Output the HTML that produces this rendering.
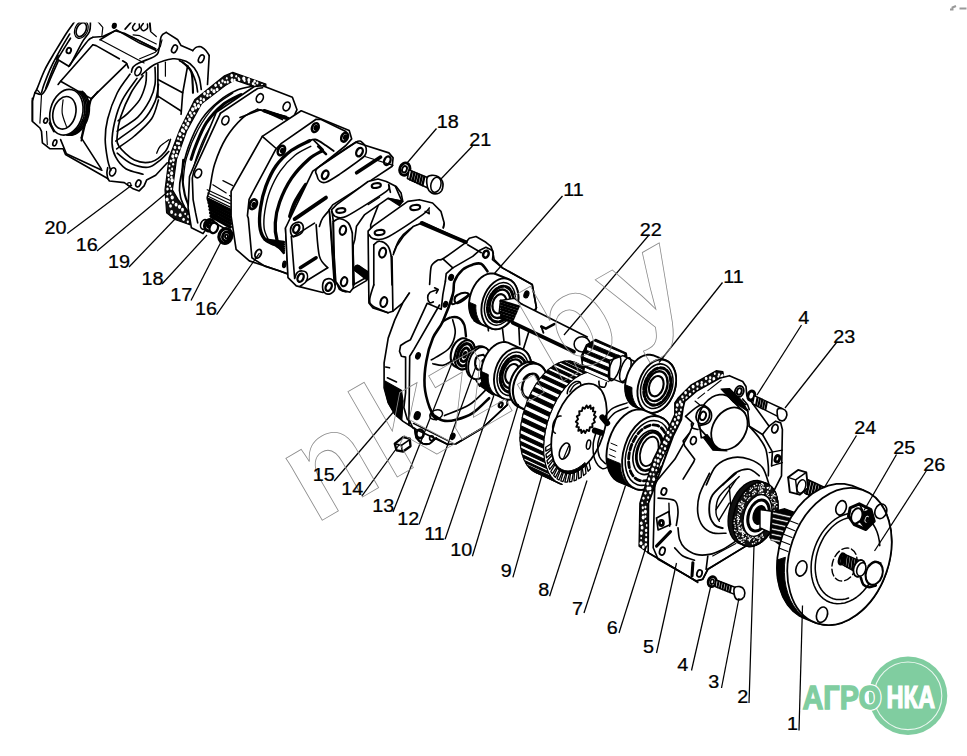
<!DOCTYPE html>
<html><head><meta charset="utf-8"><title>diagram</title>
<style>html,body{margin:0;padding:0;background:#fff;overflow:hidden}svg{display:block}</style></head>
<body>
<svg width="967" height="756" viewBox="0 0 967 756">
<rect width="967" height="756" fill="#fff"/>
<g stroke-linecap="round" stroke-linejoin="round">
<clipPath id="c20"><rect x="0" y="22.5" width="967" height="740"/></clipPath><g clip-path="url(#c20)">
<path d="M74.6,21.6 C73.3,23.5 69.7,28.1 66.4,33.2 C63.1,38.3 58.4,46.2 54.8,52.2 C51.2,58.3 47.8,63.7 44.9,69.6 C42.0,75.5 39.1,83.9 37.4,87.8 C35.8,91.7 35.3,91.9 34.9,92.8" fill="none" stroke="#000" stroke-width="1.65" />
<path d="M34.9,92.8 L32.4,101.0 L32.4,120.9" fill="none" stroke="#000" stroke-width="1.65" />
<path d="M69.7,34.0 C68.4,36.1 65.3,41.1 62.2,46.4 C59.2,51.8 54.5,60.0 51.5,66.3 C48.4,72.6 45.7,80.1 44.0,84.5 C42.4,88.9 42.0,91.4 41.5,92.8" fill="none" stroke="#000" stroke-width="1.65" />
<path d="M70.5,38.2 C68.2,42.0 60.2,54.2 56.4,61.3 C52.7,68.5 50.0,76.6 48.2,81.2 C46.4,85.7 46.1,87.4 45.7,88.6" fill="none" stroke="#000" stroke-width="1.65" />
<path d="M90.4,21.6 C90.2,23.3 90.9,28.1 89.5,31.5 C88.2,35.0 85.1,37.1 82.1,42.3 C79.1,47.5 73.5,59.0 71.3,63.0 C69.1,67.0 69.3,65.7 68.8,66.3" fill="none" stroke="#000" stroke-width="1.65" />
<path d="M58.1,55.5 L56.4,58.8 L68.8,66.3" fill="none" stroke="#000" stroke-width="1.65" />
<path d="M58.1,61.3 C57.0,63.8 53.4,71.8 51.5,76.2 C49.5,80.6 48.2,84.8 46.5,87.8 C44.9,90.8 43.5,93.6 41.5,94.4 C39.6,95.2 36.0,93.0 34.9,92.8" fill="none" stroke="#000" stroke-width="1.65" />
<ellipse cx="81.3" cy="29.6" rx="4.6" ry="7.4" transform="rotate(25 81.3 29.6)" fill="none" stroke="#000" stroke-width="1.65" />
<ellipse cx="81.3" cy="29.6" rx="6.3" ry="9.1" transform="rotate(25 81.3 29.6)" fill="none" stroke="#000" stroke-width="1.18" />
<ellipse cx="68.8" cy="50.6" rx="2.2" ry="2.8" transform="rotate(20 68.8 50.6)" fill="none" stroke="#000" stroke-width="1.89" />
<path d="M97.8,21.6 L102.8,27.4 L101.9,35.7" fill="none" stroke="#000" stroke-width="1.18" />
<ellipse cx="114.3" cy="25.8" rx="1.3" ry="2.0" transform="rotate(10 114.3 25.8)" fill="none" stroke="#000" stroke-width="2.6" />
<path d="M125.1,29.1 L130.9,22.4" fill="none" stroke="#000" stroke-width="1.65" />
<path d="M135.0,23.3 C134.6,24.0 132.5,26.2 132.5,27.4 C132.5,28.7 133.9,30.6 135.0,30.7 C136.1,30.9 138.5,29.3 139.2,28.2 C139.9,27.1 139.2,24.8 139.2,24.1" fill="none" stroke="#000" stroke-width="1.53" />
<path d="M143.3,23.3 C142.9,24.0 140.8,26.2 140.8,27.4 C140.8,28.7 142.2,30.6 143.3,30.7 C144.4,30.9 146.8,29.3 147.4,28.2 C148.1,27.1 147.4,24.8 147.4,24.1" fill="none" stroke="#000" stroke-width="1.53" />
<path d="M149.9,22.4 L150.7,30.7" fill="none" stroke="#000" stroke-width="1.53" />
<path d="M68.8,66.3 C70.6,63.9 79.4,51.6 82.1,48.1 C84.7,44.6 87.3,41.3 88.7,39.8 C90.1,38.4 92.3,37.7 92.8,37.3" fill="none" stroke="#000" stroke-width="1.65" />
<path d="M92.8,37.3 L102.8,36.5 L115.2,30.7 L124.3,33.2 L155.7,48.9" fill="none" stroke="#000" stroke-width="1.65" />
<path d="M92.8,44.8 L96.1,45.6 L119.3,58.8" fill="none" stroke="#000" stroke-width="1.65" />
<path d="M122.6,60.8 L126.3,63.0" fill="none" stroke="#000" stroke-width="1.65" />
<path d="M100.3,39.8 L144.1,63.0" fill="none" stroke="#000" stroke-width="1.18" />
<path d="M130.9,36.5 L155.7,48.9" fill="none" stroke="#000" stroke-width="1.18" />
<path d="M92.8,44.8 L60.6,81.2 L91.2,98.6 L126.8,63.8" fill="none" stroke="#000" stroke-width="1.65" />
<path d="M60.6,81.2 L58.1,84.5" fill="none" stroke="#000" stroke-width="1.65" />
<path d="M91.2,98.6 L81.3,140.7" fill="none" stroke="#000" stroke-width="1.65" />
<path d="M126.8,63.8 L128.4,67.9" fill="none" stroke="#000" stroke-width="1.65" />
<path d="M131.4,72.1 C131.8,71.1 131.6,68.9 133.1,67.1 C134.6,65.3 134.6,65.1 138.9,63.0 C143.2,60.8 150.6,58.8 154.6,56.4 C158.6,53.9 157.4,54.5 158.7,50.6 C160.1,46.6 159.7,40.1 161.2,36.5 C162.7,32.9 165.2,33.2 166.2,32.4" fill="none" stroke="#000" stroke-width="1.65" />
<path d="M166.2,32.4 L177.8,39.8 L181.1,45.6 L192.7,50.6" fill="none" stroke="#000" stroke-width="1.65" />
<path d="M192.7,50.6 C194.0,49.6 194.5,47.2 197.6,46.8 C200.7,46.3 201.2,46.6 204.2,48.9 C207.3,51.3 207.9,53.8 209.2,55.5" fill="none" stroke="#000" stroke-width="1.65" />
<path d="M209.2,55.5 L207.5,84.5" fill="none" stroke="#000" stroke-width="1.65" />
<path d="M139.7,58.8 L155.4,52.2 L160.4,46.4 L162.0,39.8" fill="none" stroke="#000" stroke-width="1.18" />
<path d="M100.0,39.8 L116.5,29.9 L139.7,43.1 L156.3,50.6" fill="none" stroke="#000" stroke-width="1.65" />
<path d="M133.1,34.9 L139.7,35.7 L156.3,44.0" fill="none" stroke="#000" stroke-width="1.18" />
<path d="M149.6,23.3 L150.5,31.5 L156.3,36.5" fill="none" stroke="#000" stroke-width="1.18" />
<ellipse cx="138.1" cy="71.3" rx="2.8" ry="4.6" transform="rotate(25 138.1 71.3)" fill="none" stroke="#000" stroke-width="1.65" />
<ellipse cx="174.5" cy="48.9" rx="2.5" ry="4.1" transform="rotate(25 174.5 48.9)" fill="none" stroke="#000" stroke-width="1.65" />
<ellipse cx="201.3" cy="58.8" rx="2.5" ry="4.1" transform="rotate(25 201.3 58.8)" fill="none" stroke="#000" stroke-width="1.65" />
<path d="M141.4,74.9 C143.6,73.2 149.4,67.3 154.6,64.6 C159.8,62.0 167.6,59.4 172.8,58.8 C178.0,58.3 182.5,59.8 186.0,61.3 C189.6,62.8 192.1,65.2 194.3,67.9 C196.5,70.7 198.1,74.3 199.3,77.9 C200.4,81.5 200.9,87.5 201.3,89.5" fill="none" stroke="#000" stroke-width="1.65" />
<path d="M179.4,60.5 C181.1,61.7 186.6,64.5 189.3,67.9 C192.1,71.4 194.3,77.2 195.6,81.2 C197.0,85.2 197.3,90.1 197.6,91.9" fill="none" stroke="#000" stroke-width="1.65" />
<path d="M182.7,62.2 C184.1,63.7 189.3,67.5 191.0,71.3 C192.7,75.0 192.3,80.9 192.7,84.5 C193.0,88.1 192.9,91.4 193.0,92.8" fill="none" stroke="#000" stroke-width="2.12" />
<path d="M157.9,64.6 L157.9,97.7" fill="none" stroke="#000" stroke-width="1.65" />
<path d="M157.9,79.5 L182.7,92.8" fill="none" stroke="#000" stroke-width="1.65" />
<path d="M157.9,96.1 L181.1,111.0" fill="none" stroke="#000" stroke-width="1.65" />
<path d="M187.7,65.5 L182.7,92.8 L181.1,114.3" fill="none" stroke="#000" stroke-width="1.65" />
<path d="M165.4,62.2 L165.4,76.2" fill="none" stroke="#000" stroke-width="1.18" />
<path d="M130.1,74.1 C127.9,77.2 120.9,85.5 117.2,93.0 C113.5,100.4 109.7,111.0 107.7,118.8 C105.7,126.5 105.2,132.5 105.2,139.4 C105.2,146.3 106.8,154.9 107.7,160.1 C108.7,165.2 110.2,168.7 110.7,170.4" fill="none" stroke="#000" stroke-width="1.65" />
<path d="M137.0,78.4 C134.5,82.0 126.1,92.6 122.4,99.9 C118.6,107.2 116.3,115.1 114.6,122.2 C112.9,129.4 111.9,137.1 112.0,142.9 C112.2,148.6 113.2,152.3 115.5,156.6 C117.8,160.9 121.2,165.7 125.8,168.7 C130.4,171.6 140.1,173.2 143.0,174.2" fill="none" stroke="#000" stroke-width="1.65" />
<path d="M143.0,75.8 C141.0,78.7 134.7,86.1 131.0,93.0 C127.2,99.9 122.9,109.9 120.6,117.1 C118.3,124.2 117.5,131.1 117.2,136.0 C116.9,140.9 116.0,142.3 118.9,146.3 C121.8,150.3 128.9,157.5 134.4,160.1 C139.8,162.6 146.4,163.2 151.6,161.8 C156.7,160.3 162.2,155.2 165.3,151.5 C168.5,147.7 169.6,141.4 170.5,139.4" fill="none" stroke="#000" stroke-width="1.65" />
<path d="M146.4,72.4 C146.3,74.4 146.7,79.8 145.6,84.4 C144.4,89.0 142.6,95.0 139.6,99.9 C136.5,104.7 131.1,110.1 127.5,113.6 C123.9,117.1 119.6,119.6 118.1,120.8" fill="none" stroke="#000" stroke-width="1.65" />
<path d="M155.0,67.2 C155.0,70.1 155.9,78.9 155.0,84.4 C154.2,89.8 152.7,94.4 149.9,99.9 C147.0,105.3 143.3,111.8 137.8,117.1 C132.4,122.3 120.6,128.8 117.2,131.2" fill="none" stroke="#000" stroke-width="1.65" />
<path d="M158.5,84.4 C157.9,87.3 157.6,95.6 155.0,101.6 C152.4,107.6 149.5,113.9 143.0,120.5 C136.5,127.1 120.3,137.7 115.8,141.1" fill="none" stroke="#000" stroke-width="1.65" />
<path d="M158.5,99.9 C157.3,103.0 155.6,112.8 151.6,118.8 C147.6,124.8 140.2,131.0 134.4,136.0 C128.6,141.0 119.6,146.7 116.7,148.9" fill="none" stroke="#000" stroke-width="1.65" />
<path d="M117.2,153.2 C119.5,154.9 125.8,161.1 131.0,163.5 C136.1,165.8 143.3,167.8 148.1,167.3 C153.0,166.7 156.7,162.7 160.2,160.1 C163.6,157.4 167.4,152.9 168.8,151.5" fill="none" stroke="#000" stroke-width="1.65" />
<path d="M156.7,153.2 C157.3,152.0 158.2,148.5 160.2,146.3 C162.2,144.1 167.4,140.9 168.8,139.8" fill="none" stroke="#000" stroke-width="1.3" />
<path d="M107.7,178.5 L109.4,181.0 L124.3,182.6 L132.5,188.4 L139.2,190.9 L144.1,185.9 L146.6,180.1 L155.7,175.2 L167.3,162.8" fill="none" stroke="#000" stroke-width="1.65" />
<ellipse cx="112.7" cy="171.9" rx="2.8" ry="4.3" transform="rotate(25 112.7 171.9)" fill="none" stroke="#000" stroke-width="1.65" />
<ellipse cx="138.3" cy="183.4" rx="2.3" ry="3.6" transform="rotate(25 138.3 183.4)" fill="none" stroke="#000" stroke-width="1.65" />
<ellipse cx="129.2" cy="184.3" rx="1.7" ry="1.7" transform="rotate(0 129.2 184.3)" fill="none" stroke="#000" stroke-width="1.18" />
<path d="M107.7,167.7 C107.6,168.6 106.9,170.9 106.9,172.7 C106.9,174.5 107.6,177.5 107.7,178.5" fill="none" stroke="#000" stroke-width="1.65" />
<path d="M32.4,98.2 L32.4,121.4 L39.9,128.0 L41.5,131.3 L42.4,142.9 L49.8,148.7 L63.1,148.7 L65.5,154.5 L107.7,178.5" fill="none" stroke="#000" stroke-width="1.65" />
<path d="M37.4,90.0 L41.5,94.9 L39.9,123.1" fill="none" stroke="#000" stroke-width="1.18" />
<path d="M60.6,139.6 L66.4,153.7 L101.9,170.2" fill="none" stroke="#000" stroke-width="1.65" />
<path d="M81.3,137.9 L101.1,168.6" fill="none" stroke="#000" stroke-width="1.65" />
<path d="M97.8,91.6 L89.5,101.5 L81.3,137.9" fill="none" stroke="#000" stroke-width="1.65" />
<path d="M46.5,131.3 L47.3,144.6" fill="none" stroke="#000" stroke-width="1.18" />
<ellipse cx="45.7" cy="120.6" rx="1.8" ry="2.6" transform="rotate(25 45.7 120.6)" fill="none" stroke="#000" stroke-width="1.65" />
<ellipse cx="54.8" cy="142.9" rx="1.8" ry="3.1" transform="rotate(20 54.8 142.9)" fill="none" stroke="#000" stroke-width="1.65" />
<path d="M49.8,123.1 L54.0,131.3" fill="none" stroke="#000" stroke-width="2.36" />
<ellipse cx="66.4" cy="112.3" rx="16.2" ry="23.2" transform="rotate(14 66.4 112.3)" fill="none" stroke="#000" stroke-width="1.65" />
<ellipse cx="64.4" cy="112.8" rx="11.3" ry="16.5" transform="rotate(14 64.4 112.8)" fill="none" stroke="#000" stroke-width="1.65" />
<path d="M63.1,99.9 C62.9,102.1 61.7,108.7 62.2,113.1 C62.8,117.5 65.7,124.2 66.4,126.4" fill="none" stroke="#000" stroke-width="1.18" />
<path d="M77.8,91.5 L79.2,92.6 L80.5,94.0 L81.7,95.7 L82.6,97.5 L83.5,99.5 L84.1,101.6 L84.5,103.9 L84.8,106.3 L84.9,108.7 L84.7,111.2 L84.4,113.7 L83.9,116.2 L83.2,118.6 L82.3,121.0 L81.2,123.2 L80.0,125.4 L78.7,127.3 L77.2,129.1 L75.7,130.7 L74.0,132.1 L72.3,133.2 L70.5,134.1 L68.7,134.8 L66.9,135.1" fill="none" stroke="#000" stroke-width="1.77" />
<path d="M79.3,91.5 L80.7,92.6 L82.0,94.0 L83.2,95.7 L84.1,97.5 L85.0,99.5 L85.6,101.6 L86.0,103.9 L86.3,106.3 L86.4,108.7 L86.2,111.2 L85.9,113.7 L85.4,116.2 L84.7,118.6 L83.8,121.0 L82.7,123.2 L81.5,125.4 L80.2,127.3 L78.7,129.1 L77.2,130.7 L75.5,132.1 L73.8,133.2 L72.0,134.1 L70.2,134.8 L68.4,135.1" fill="none" stroke="#000" stroke-width="1.77" />
<path d="M80.8,91.5 L82.2,92.6 L83.5,94.0 L84.6,95.7 L85.6,97.5 L86.4,99.5 L87.1,101.6 L87.5,103.9 L87.8,106.3 L87.8,108.7 L87.7,111.2 L87.4,113.7 L86.9,116.2 L86.1,118.6 L85.3,121.0 L84.2,123.2 L83.0,125.4 L81.7,127.3 L80.2,129.1 L78.6,130.7 L77.0,132.1 L75.3,133.2 L73.5,134.1 L71.7,134.8 L69.9,135.1" fill="none" stroke="#000" stroke-width="1.77" />
<path d="M82.3,91.5 L83.7,92.6 L85.0,94.0 L86.1,95.7 L87.1,97.5 L87.9,99.5 L88.6,101.6 L89.0,103.9 L89.3,106.3 L89.3,108.7 L89.2,111.2 L88.9,113.7 L88.3,116.2 L87.6,118.6 L86.8,121.0 L85.7,123.2 L84.5,125.4 L83.2,127.3 L81.7,129.1 L80.1,130.7 L78.5,132.1 L76.8,133.2 L75.0,134.1 L73.2,134.8 L71.4,135.1" fill="none" stroke="#000" stroke-width="1.77" />
</g>
<path d="M265.9,87.3 L265.9,84.0 L232.8,72.4 L224.5,75.8 L194.7,99.7 L179.9,129.5 L169.1,157.7 L165.0,189.9 L166.6,212.9 L174.9,219.5 L189.8,224.8 L190.6,213.7 L184.8,207.9 L178.2,199.6 L172.4,189.9 L176.5,159.3 L186.5,131.2 L201.4,103.9 L226.2,84.9 L234.5,79.9 L252.7,86.2 Z" fill="#111" stroke="#000" stroke-width="1.18" />
<ellipse cx="262.0" cy="85.0" rx="0.99" ry="1.28" fill="#fff"/>
<ellipse cx="254.8" cy="85.3" rx="0.93" ry="1.21" fill="#fff"/>
<ellipse cx="257.3" cy="83.1" rx="1.15" ry="1.49" fill="#fff"/>
<ellipse cx="253.1" cy="83.6" rx="1.26" ry="1.63" fill="#fff"/>
<ellipse cx="254.6" cy="81.3" rx="1.20" ry="1.56" fill="#fff"/>
<ellipse cx="248.9" cy="82.2" rx="0.94" ry="1.23" fill="#fff"/>
<ellipse cx="248.8" cy="80.0" rx="1.50" ry="1.94" fill="#fff"/>
<ellipse cx="244.6" cy="80.7" rx="1.04" ry="1.36" fill="#fff"/>
<ellipse cx="243.8" cy="78.6" rx="1.59" ry="2.06" fill="#fff"/>
<ellipse cx="239.2" cy="79.6" rx="1.17" ry="1.52" fill="#fff"/>
<ellipse cx="238.5" cy="78.1" rx="0.91" ry="1.18" fill="#fff"/>
<ellipse cx="234.6" cy="80.1" rx="1.09" ry="1.42" fill="#fff"/>
<ellipse cx="236.2" cy="76.2" rx="0.96" ry="1.25" fill="#fff"/>
<ellipse cx="232.1" cy="80.2" rx="1.49" ry="1.93" fill="#fff"/>
<ellipse cx="231.7" cy="75.5" rx="1.31" ry="1.70" fill="#fff"/>
<ellipse cx="227.7" cy="82.0" rx="1.15" ry="1.50" fill="#fff"/>
<ellipse cx="226.8" cy="78.3" rx="0.92" ry="1.20" fill="#fff"/>
<ellipse cx="225.0" cy="82.2" rx="1.03" ry="1.34" fill="#fff"/>
<ellipse cx="222.5" cy="80.9" rx="1.20" ry="1.55" fill="#fff"/>
<ellipse cx="221.0" cy="85.3" rx="1.31" ry="1.71" fill="#fff"/>
<ellipse cx="219.1" cy="83.0" rx="1.10" ry="1.43" fill="#fff"/>
<ellipse cx="217.1" cy="89.5" rx="1.40" ry="1.82" fill="#fff"/>
<ellipse cx="215.6" cy="85.3" rx="1.31" ry="1.70" fill="#fff"/>
<ellipse cx="214.0" cy="91.2" rx="1.53" ry="1.99" fill="#fff"/>
<ellipse cx="211.6" cy="89.7" rx="1.09" ry="1.42" fill="#fff"/>
<ellipse cx="210.3" cy="95.2" rx="0.96" ry="1.25" fill="#fff"/>
<ellipse cx="208.1" cy="91.7" rx="1.44" ry="1.88" fill="#fff"/>
<ellipse cx="207.4" cy="95.5" rx="1.24" ry="1.61" fill="#fff"/>
<ellipse cx="204.5" cy="93.7" rx="1.38" ry="1.79" fill="#fff"/>
<ellipse cx="203.8" cy="99.7" rx="1.30" ry="1.70" fill="#fff"/>
<ellipse cx="200.8" cy="98.8" rx="1.11" ry="1.44" fill="#fff"/>
<ellipse cx="200.8" cy="102.4" rx="1.32" ry="1.72" fill="#fff"/>
<ellipse cx="197.5" cy="101.3" rx="1.22" ry="1.58" fill="#fff"/>
<ellipse cx="198.5" cy="106.1" rx="1.58" ry="2.06" fill="#fff"/>
<ellipse cx="194.7" cy="104.8" rx="1.37" ry="1.79" fill="#fff"/>
<ellipse cx="195.7" cy="107.8" rx="1.40" ry="1.82" fill="#fff"/>
<ellipse cx="192.7" cy="109.3" rx="1.62" ry="2.11" fill="#fff"/>
<ellipse cx="194.3" cy="113.3" rx="1.09" ry="1.41" fill="#fff"/>
<ellipse cx="190.3" cy="113.0" rx="1.38" ry="1.79" fill="#fff"/>
<ellipse cx="191.6" cy="115.5" rx="1.22" ry="1.59" fill="#fff"/>
<ellipse cx="187.9" cy="116.8" rx="0.96" ry="1.25" fill="#fff"/>
<ellipse cx="189.6" cy="119.4" rx="1.45" ry="1.89" fill="#fff"/>
<ellipse cx="185.7" cy="121.0" rx="1.06" ry="1.38" fill="#fff"/>
<ellipse cx="187.9" cy="123.8" rx="1.53" ry="1.99" fill="#fff"/>
<ellipse cx="183.5" cy="125.3" rx="1.21" ry="1.58" fill="#fff"/>
<ellipse cx="186.1" cy="127.8" rx="1.54" ry="2.00" fill="#fff"/>
<ellipse cx="182.4" cy="130.3" rx="1.52" ry="1.98" fill="#fff"/>
<ellipse cx="183.9" cy="131.4" rx="1.19" ry="1.54" fill="#fff"/>
<ellipse cx="180.0" cy="134.2" rx="1.54" ry="2.00" fill="#fff"/>
<ellipse cx="183.4" cy="136.0" rx="0.99" ry="1.28" fill="#fff"/>
<ellipse cx="178.1" cy="138.6" rx="1.05" ry="1.36" fill="#fff"/>
<ellipse cx="180.8" cy="139.5" rx="1.24" ry="1.61" fill="#fff"/>
<ellipse cx="177.1" cy="143.2" rx="1.07" ry="1.39" fill="#fff"/>
<ellipse cx="178.9" cy="143.5" rx="1.19" ry="1.55" fill="#fff"/>
<ellipse cx="175.0" cy="147.5" rx="1.30" ry="1.69" fill="#fff"/>
<ellipse cx="179.2" cy="147.7" rx="1.39" ry="1.81" fill="#fff"/>
<ellipse cx="173.7" cy="152.0" rx="1.34" ry="1.74" fill="#fff"/>
<ellipse cx="177.2" cy="151.7" rx="0.92" ry="1.19" fill="#fff"/>
<ellipse cx="172.8" cy="156.2" rx="1.46" ry="1.90" fill="#fff"/>
<ellipse cx="176.2" cy="155.6" rx="1.47" ry="1.92" fill="#fff"/>
<ellipse cx="170.8" cy="161.0" rx="1.17" ry="1.53" fill="#fff"/>
<ellipse cx="173.5" cy="160.1" rx="1.35" ry="1.76" fill="#fff"/>
<ellipse cx="169.5" cy="166.0" rx="0.93" ry="1.20" fill="#fff"/>
<ellipse cx="173.1" cy="164.3" rx="1.00" ry="1.30" fill="#fff"/>
<ellipse cx="169.5" cy="170.4" rx="0.91" ry="1.19" fill="#fff"/>
<ellipse cx="172.1" cy="168.9" rx="0.99" ry="1.28" fill="#fff"/>
<ellipse cx="168.4" cy="175.5" rx="1.15" ry="1.49" fill="#fff"/>
<ellipse cx="171.6" cy="173.2" rx="1.53" ry="1.99" fill="#fff"/>
<ellipse cx="168.8" cy="179.4" rx="0.99" ry="1.28" fill="#fff"/>
<ellipse cx="171.4" cy="177.2" rx="1.14" ry="1.48" fill="#fff"/>
<ellipse cx="167.7" cy="184.5" rx="0.97" ry="1.26" fill="#fff"/>
<ellipse cx="172.1" cy="180.3" rx="1.62" ry="2.11" fill="#fff"/>
<ellipse cx="167.5" cy="189.0" rx="1.24" ry="1.61" fill="#fff"/>
<ellipse cx="170.1" cy="186.1" rx="0.95" ry="1.24" fill="#fff"/>
<ellipse cx="167.4" cy="194.0" rx="1.07" ry="1.40" fill="#fff"/>
<ellipse cx="171.2" cy="188.7" rx="1.00" ry="1.29" fill="#fff"/>
<ellipse cx="167.1" cy="199.5" rx="1.59" ry="2.06" fill="#fff"/>
<ellipse cx="170.6" cy="193.6" rx="0.98" ry="1.28" fill="#fff"/>
<ellipse cx="168.8" cy="202.6" rx="0.90" ry="1.16" fill="#fff"/>
<ellipse cx="172.2" cy="197.5" rx="1.61" ry="2.09" fill="#fff"/>
<ellipse cx="170.5" cy="206.0" rx="1.40" ry="1.82" fill="#fff"/>
<ellipse cx="173.0" cy="202.3" rx="1.15" ry="1.50" fill="#fff"/>
<ellipse cx="171.6" cy="212.0" rx="1.45" ry="1.89" fill="#fff"/>
<ellipse cx="176.1" cy="204.7" rx="1.46" ry="1.90" fill="#fff"/>
<ellipse cx="175.5" cy="214.5" rx="1.04" ry="1.35" fill="#fff"/>
<ellipse cx="179.5" cy="206.8" rx="1.61" ry="2.10" fill="#fff"/>
<ellipse cx="180.2" cy="215.2" rx="1.48" ry="1.92" fill="#fff"/>
<ellipse cx="182.5" cy="209.7" rx="1.43" ry="1.86" fill="#fff"/>
<ellipse cx="183.6" cy="219.3" rx="1.26" ry="1.64" fill="#fff"/>
<ellipse cx="185.2" cy="213.8" rx="0.90" ry="1.17" fill="#fff"/>
<ellipse cx="187.8" cy="221.8" rx="1.08" ry="1.41" fill="#fff"/>
<ellipse cx="188.6" cy="216.5" rx="1.39" ry="1.81" fill="#fff"/>
<path d="M252.7,86.2 C250.2,86.8 243.3,87.4 237.8,89.8 C232.3,92.2 225.6,95.6 219.6,100.6 C213.5,105.5 206.6,111.7 201.4,119.6 C196.1,127.5 191.6,138.1 188.1,147.7 C184.7,157.4 182.1,170.5 180.7,177.5 C179.2,184.5 179.7,187.9 179.5,189.9" fill="#fff" stroke="#000" stroke-width="1.65" />
<path d="M179.5,190.5 C179.8,192.1 180.3,196.9 181.2,199.6 C182.1,202.4 183.4,204.7 184.8,207.1 C186.3,209.4 189.0,212.6 189.8,213.7" fill="none" stroke="#000" stroke-width="1.65" />
<path d="M241.1,94.5 C238.0,96.2 228.7,100.0 222.9,104.7 C217.1,109.5 210.9,116.0 206.3,122.9 C201.8,129.8 198.1,140.0 195.6,146.1 C193.0,152.1 191.9,157.1 191.1,159.3" fill="none" stroke="#000" stroke-width="3.07" />
<path d="M244.4,97.3 C241.4,99.3 232.0,104.6 226.2,109.7 C220.4,114.8 214.6,119.9 209.6,127.9 C204.7,135.9 199.4,148.8 196.4,157.7 C193.4,166.5 192.3,177.0 191.4,180.8" fill="none" stroke="#000" stroke-width="1.3" />
<path d="M232.8,93.1 C229.8,95.3 220.4,100.3 214.6,106.4 C208.8,112.4 202.7,121.0 198.1,129.5 C193.4,138.1 189.0,149.1 186.5,157.7 C184.0,166.2 183.7,177.0 183.2,180.8" fill="none" stroke="#000" stroke-width="1.3" />
<path d="M183.2,159.9 C183.0,162.7 182.1,170.7 182.3,176.5 C182.6,182.3 183.7,189.7 184.8,194.7 C185.9,199.6 188.3,204.3 189.0,206.3" fill="none" stroke="#000" stroke-width="2.12" />
<path d="M216.3,112.2 L254.3,86.5 L262.6,85.7 L292.4,97.3 L297.0,109.7 L292.4,119.6 L275.8,131.2 L242.7,180.8 L226.2,199.6 L203.0,233.6 L191.4,227.8 L188.1,207.9 L189.5,176.5 Z" fill="#fff" stroke="#000" stroke-width="1.65" />
<path d="M220.4,113.3 L257.6,88.5 L262.6,87.7" fill="none" stroke="#000" stroke-width="1.65" />
<path d="M220.4,113.3 L193.9,170.9 L192.3,178.1 L193.1,199.6 L195.6,212.9 L197.7,222.8" fill="none" stroke="#000" stroke-width="1.65" />
<ellipse cx="225.4" cy="120.4" rx="3.3" ry="4.6" transform="rotate(25 225.4 120.4)" fill="none" stroke="#000" stroke-width="1.65" />
<ellipse cx="259.8" cy="98.1" rx="3.3" ry="4.6" transform="rotate(25 259.8 98.1)" fill="none" stroke="#000" stroke-width="1.65" />
<ellipse cx="286.6" cy="106.4" rx="3.3" ry="4.6" transform="rotate(25 286.6 106.4)" fill="none" stroke="#000" stroke-width="1.65" />
<ellipse cx="198.1" cy="173.4" rx="3.3" ry="4.6" transform="rotate(25 198.1 173.4)" fill="none" stroke="#000" stroke-width="1.65" />
<path d="M257.6,109.3 L242.7,117.9 L226.2,137.8 L214.6,164.3 L209.6,189.9 L207.2,198.0 L209.6,204.6 L231.1,216.2 L231.1,191.4 L262.3,136.4 L240.0,117.4 L292.4,119.6 L299.0,113.0 L282.4,119.6 L262.6,110.5 Z" fill="#fff" stroke="none" stroke-width="0.0" />
<path d="M257.6,109.3 C255.1,110.8 248.0,113.2 242.7,117.9 C237.5,122.7 230.9,130.1 226.2,137.8 C221.5,145.5 217.4,155.6 214.6,164.3 C211.8,173.0 210.9,184.3 209.6,189.9 C208.4,195.5 207.2,195.5 207.2,198.0 C207.2,200.4 209.2,203.5 209.6,204.6" fill="none" stroke="#000" stroke-width="1.65" />
<path d="M257.6,109.3 L262.6,110.5 L282.4,119.6" fill="none" stroke="#000" stroke-width="1.65" />
<path d="M264.2,110.8 L288.2,118.8" fill="none" stroke="#000" stroke-width="3.54" />
<path d="M207.2,189.7 L230.3,200.5" fill="none" stroke="#000" stroke-width="1.18" />
<path d="M207.7,193.0 L230.3,203.8" fill="none" stroke="#000" stroke-width="1.18" />
<path d="M208.1,196.3 L230.3,207.1" fill="none" stroke="#000" stroke-width="1.18" />
<path d="M208.6,199.6 L230.3,210.4" fill="none" stroke="#000" stroke-width="3.42" />
<path d="M209.1,202.9 L230.3,213.7" fill="none" stroke="#000" stroke-width="3.42" />
<path d="M209.6,206.3 L230.3,217.0" fill="none" stroke="#000" stroke-width="3.42" />
<path d="M210.1,209.6 L230.3,220.3" fill="none" stroke="#000" stroke-width="3.42" />
<path d="M210.6,212.9 L230.3,223.6" fill="none" stroke="#000" stroke-width="3.42" />
<path d="M211.1,216.2 L230.3,226.9" fill="none" stroke="#000" stroke-width="3.42" />
<path d="M212.9,184.7 L226.2,193.0" fill="none" stroke="#000" stroke-width="1.18" />
<path d="M229.5,195.5 L242.7,203.8" fill="none" stroke="#000" stroke-width="1.18" />
<path d="M222.9,180.6 L232.8,185.6" fill="none" stroke="#000" stroke-width="1.18" />
<ellipse cx="204.3" cy="224.5" rx="3.6" ry="5.0" transform="rotate(20 204.3 224.5)" fill="#fff" stroke="#000" stroke-width="1.65" />
<ellipse cx="209.6" cy="225.3" rx="5.0" ry="5.8" transform="rotate(20 209.6 225.3)" fill="#fff" stroke="#000" stroke-width="3.07" />
<ellipse cx="209.6" cy="224.8" rx="2.0" ry="2.3" transform="rotate(0 209.6 224.8)" fill="none" stroke="#000" stroke-width="3.54" />
<ellipse cx="213.8" cy="227.8" rx="4.1" ry="5.3" transform="rotate(20 213.8 227.8)" fill="#fff" stroke="#000" stroke-width="2.36" />
<path d="M214.6,222.8 L226.2,229.4" fill="none" stroke="#000" stroke-width="1.65" />
<ellipse cx="225.4" cy="236.0" rx="6.3" ry="7.4" transform="rotate(20 225.4 236.0)" fill="#fff" stroke="#000" stroke-width="3.3" />
<ellipse cx="226.2" cy="236.4" rx="3.6" ry="4.5" transform="rotate(20 226.2 236.4)" fill="none" stroke="#000" stroke-width="2.83" />
<ellipse cx="226.5" cy="236.4" rx="1.5" ry="1.8" transform="rotate(0 226.5 236.4)" fill="none" stroke="#000" stroke-width="1.89" />
<path d="M240.0,117.4 L259.9,109.9 L286.3,116.5" fill="none" stroke="#000" stroke-width="1.65" />
<path d="M264.8,110.3 L286.3,117.0 L281.4,117.9 Z" fill="#000" stroke="#000" stroke-width="1.18" />
<path d="M262.3,136.4 L301.2,110.8 L349.2,130.6 L351.7,138.9 L345.9,145.5 L317.8,167.8 L294.6,219.1 L285.5,228.0 L288.0,274.3 L279.1,270.8 L249.3,260.9 L236.1,249.3 L231.1,216.2 L231.1,191.4 Z" fill="#fff" stroke="#000" stroke-width="1.65" />
<path d="M262.3,136.4 L275.6,148.0" fill="none" stroke="#000" stroke-width="1.65" />
<path d="M345.9,131.4 L321.1,119.5 L316.1,119.2 L281.4,143.4 L275.6,149.6 L249.1,199.3 L247.4,215.8 L248.3,218.1 L251.9,257.8 L264.8,266.1 L287.2,273.5" fill="none" stroke="#000" stroke-width="1.65" />
<ellipse cx="281.4" cy="150.5" rx="3.3" ry="5.0" transform="rotate(25 281.4 150.5)" fill="none" stroke="#000" stroke-width="2.6" />
<ellipse cx="315.3" cy="127.6" rx="3.1" ry="4.6" transform="rotate(25 315.3 127.6)" fill="none" stroke="#000" stroke-width="2.6" />
<ellipse cx="344.6" cy="137.2" rx="3.1" ry="4.6" transform="rotate(25 344.6 137.2)" fill="none" stroke="#000" stroke-width="2.6" />
<ellipse cx="253.2" cy="204.2" rx="3.3" ry="5.0" transform="rotate(25 253.2 204.2)" fill="none" stroke="#000" stroke-width="2.83" />
<ellipse cx="258.2" cy="253.7" rx="2.8" ry="4.6" transform="rotate(25 258.2 253.7)" fill="none" stroke="#000" stroke-width="1.89" />
<ellipse cx="282.2" cy="150.5" rx="1.3" ry="2.0" transform="rotate(25 282.2 150.5)" fill="#000" stroke="#000" stroke-width="1.77" />
<ellipse cx="315.8" cy="127.6" rx="1.3" ry="2.0" transform="rotate(25 315.8 127.6)" fill="#000" stroke="#000" stroke-width="1.77" />
<ellipse cx="345.2" cy="137.2" rx="1.3" ry="2.0" transform="rotate(25 345.2 137.2)" fill="#000" stroke="#000" stroke-width="1.77" />
<ellipse cx="253.7" cy="204.6" rx="1.3" ry="2.0" transform="rotate(25 253.7 204.6)" fill="#000" stroke="#000" stroke-width="1.77" />
<path d="M309.6,140.7 C306.6,142.3 297.2,146.1 291.6,150.3 C286.0,154.5 280.4,159.7 276.1,165.8 C271.8,171.8 268.4,179.5 265.8,186.4 C263.2,193.3 261.6,200.7 260.6,207.4 C259.6,214.0 259.2,221.1 259.8,226.3 C260.3,231.5 261.9,235.4 264.1,238.3 C266.2,241.3 271.2,242.9 272.7,243.8" fill="none" stroke="#000" stroke-width="3.3" />
<path d="M310.8,146.3 C308.2,147.8 300.1,151.2 295.0,155.3 C290.0,159.3 284.6,164.9 280.4,170.8 C276.3,176.6 272.7,183.9 270.1,190.5 C267.5,197.2 265.9,204.6 264.9,210.8 C263.9,217.1 263.5,223.1 264.1,228.0 C264.6,232.9 267.7,238.0 268.4,240.1" fill="none" stroke="#000" stroke-width="1.42" />
<path d="M322.5,150.6 C320.2,152.1 313.9,154.6 308.8,159.2 C303.6,163.8 296.5,171.0 291.6,178.1 C286.7,185.3 282.3,194.8 279.6,202.2 C276.8,209.7 275.7,216.6 275.3,222.9 C274.8,229.2 275.7,235.5 277.0,240.1 C278.3,244.6 282.0,248.7 283.0,250.4" fill="none" stroke="#000" stroke-width="3.3" />
<path d="M305.7,184.7 C303.9,187.6 297.7,196.9 295.0,202.2 C292.4,207.5 290.7,214.0 289.9,216.3" fill="none" stroke="#000" stroke-width="3.78" />
<path d="M308.8,141.2 C309.9,140.9 312.8,138.7 315.7,139.5 C318.5,140.2 323.0,143.6 326.0,145.5 C329.0,147.4 332.4,150.1 333.7,151.0" fill="none" stroke="#000" stroke-width="1.89" />
<path d="M313.9,140.3 L322.9,149.3" fill="none" stroke="#000" stroke-width="1.65" />
<path d="M318.2,146.3 L326.0,154.1" fill="none" stroke="#000" stroke-width="2.6" />
<path d="M264.8,239.6 L283.8,242.1" fill="none" stroke="#000" stroke-width="2.6" />
<path d="M267.8,241.3 L283.8,244.2" fill="none" stroke="#000" stroke-width="2.6" />
<path d="M270.8,242.9 L283.8,246.4" fill="none" stroke="#000" stroke-width="2.6" />
<path d="M273.8,244.6 L283.8,248.5" fill="none" stroke="#000" stroke-width="2.6" />
<path d="M276.7,246.2 L283.8,250.7" fill="none" stroke="#000" stroke-width="2.6" />
<path d="M279.7,247.9 L283.8,252.8" fill="none" stroke="#000" stroke-width="2.6" />
<ellipse cx="284.3" cy="264.4" rx="1.7" ry="3.3" transform="rotate(10 284.3 264.4)" fill="#000" stroke="#000" stroke-width="1.18" />
<path d="M312.8,171.1 L317.8,167.8 L355.8,142.2 L365.7,145.5 L388.9,152.9 L393.1,157.9 L392.2,166.2 L372.4,179.4 L329.3,209.8 L334.3,284.3 L332.7,290.9 L322.7,292.5 L296.3,285.9 L288.0,277.7 L285.5,228.0 Z" fill="#fff" stroke="#000" stroke-width="1.65" />
<path d="M317.8,167.8 C322.3,164.0 350.6,145.1 355.8,142.2 C361.0,139.3 361.2,142.0 362.4,142.7 C363.6,143.4 365.9,146.4 366.1,148.0 C366.3,149.6 367.2,153.2 364.1,156.3 C361.0,159.3 343.7,171.4 339.3,174.5 C334.8,177.5 328.3,181.5 326.0,182.2 C323.8,183.0 320.8,181.9 319.8,181.1 C318.7,180.3 317.2,176.8 316.9,175.3 C316.7,173.7 313.2,171.7 317.8,167.8 Z" fill="none" stroke="#000" stroke-width="1.65" />
<ellipse cx="325.2" cy="174.8" rx="3.0" ry="4.5" transform="rotate(25 325.2 174.8)" fill="none" stroke="#000" stroke-width="2.36" />
<ellipse cx="359.5" cy="152.1" rx="3.0" ry="4.5" transform="rotate(25 359.5 152.1)" fill="none" stroke="#000" stroke-width="2.36" />
<ellipse cx="387.3" cy="160.7" rx="3.0" ry="4.5" transform="rotate(25 387.3 160.7)" fill="none" stroke="#000" stroke-width="2.36" />
<path d="M356.6,172.8 L380.6,157.1" fill="none" stroke="#000" stroke-width="3.54" />
<path d="M364.1,156.3 L393.1,165.4" fill="none" stroke="#000" stroke-width="1.18" />
<path d="M294.6,219.1 L326.0,197.6" fill="none" stroke="#000" stroke-width="3.78" />
<path d="M290.5,230.5 C290.4,228.5 291.4,225.8 292.9,224.4 C294.5,223.0 297.9,221.9 299.6,222.2 C301.3,222.6 302.9,224.6 303.2,226.4 C303.5,228.2 303.2,231.3 301.6,233.0 C299.9,234.7 295.1,237.0 293.3,236.6 C291.4,236.2 290.5,232.5 290.5,230.5 Z" fill="none" stroke="#000" stroke-width="1.65" />
<ellipse cx="296.3" cy="228.8" rx="2.8" ry="4.3" transform="rotate(25 296.3 228.8)" fill="none" stroke="#000" stroke-width="2.36" />
<path d="M291.3,236.3 L294.6,277.7" fill="none" stroke="#000" stroke-width="1.65" />
<path d="M314.5,223.1 L293.3,236.6" fill="none" stroke="#000" stroke-width="1.65" />
<path d="M316.1,224.7 C316.7,230.0 317.5,249.0 319.4,256.1 C321.4,263.3 326.3,265.8 327.7,267.7" fill="none" stroke="#000" stroke-width="1.65" />
<path d="M327.7,267.7 L306.2,281.0" fill="none" stroke="#000" stroke-width="1.65" />
<path d="M300.4,267.7 L316.1,257.8" fill="none" stroke="#000" stroke-width="3.54" />
<path d="M294.6,278.5 C295.3,277.2 295.6,273.1 297.9,271.9 C300.2,270.6 304.5,270.5 306.2,272.4 C307.9,274.2 307.8,278.2 306.5,281.0 C305.3,283.7 301.2,285.2 299.9,286.3" fill="none" stroke="#000" stroke-width="1.65" />
<ellipse cx="300.6" cy="277.7" rx="2.8" ry="4.3" transform="rotate(25 300.6 277.7)" fill="none" stroke="#000" stroke-width="2.36" />
<path d="M322.7,284.3 C323.1,281.6 324.1,280.1 326.0,279.3 C328.0,278.5 330.8,278.5 332.7,280.1 C334.5,281.8 335.5,284.9 335.1,287.6 C334.8,290.2 333.2,292.4 331.0,293.4 C328.9,294.4 326.0,294.4 324.4,292.5 C322.7,290.7 322.4,286.9 322.7,284.3 Z" fill="#fff" stroke="#000" stroke-width="1.65" />
<ellipse cx="328.7" cy="286.8" rx="2.8" ry="4.3" transform="rotate(25 328.7 286.8)" fill="none" stroke="#000" stroke-width="2.36" />
<path d="M319.4,226.4 C320.0,225.0 320.5,221.4 322.7,218.1 C324.9,214.8 331.0,208.4 332.7,206.5" fill="none" stroke="#000" stroke-width="1.65" />
<path d="M329.3,209.8 L332.7,204.9 L359.1,188.3 L382.3,194.9 L370.7,224.7 L370.7,271.0 L365.7,277.7 L354.2,284.3 L349.2,290.9 L342.6,290.9 L339.3,289.2 L334.3,277.7 L330.2,218.1 Z" fill="#fff" stroke="#000" stroke-width="1.65" />
<path d="M333.5,223.4 C334.6,222.8 336.5,220.6 339.3,220.6 C342.1,220.5 344.9,220.6 347.5,223.1 C350.2,225.5 351.5,231.0 352.5,233.0" fill="none" stroke="#000" stroke-width="1.65" />
<path d="M352.5,233.0 L354.2,284.3" fill="none" stroke="#000" stroke-width="1.65" />
<path d="M354.2,284.3 C353.2,285.6 351.5,289.6 349.2,290.9 C346.9,292.2 344.9,292.2 342.6,290.9 C340.3,289.6 338.6,285.6 337.6,284.3" fill="none" stroke="#000" stroke-width="1.65" />
<path d="M337.6,284.3 L334.0,234.6 L333.5,223.4" fill="none" stroke="#000" stroke-width="1.65" />
<ellipse cx="340.9" cy="210.6" rx="5.0" ry="2.3" transform="rotate(-5 340.9 210.6)" fill="none" stroke="#000" stroke-width="2.12" />
<ellipse cx="342.6" cy="230.5" rx="3.1" ry="4.6" transform="rotate(15 342.6 230.5)" fill="none" stroke="#000" stroke-width="2.12" />
<ellipse cx="344.2" cy="281.8" rx="3.1" ry="4.6" transform="rotate(15 344.2 281.8)" fill="none" stroke="#000" stroke-width="2.12" />
<path d="M345.9,216.4 L382.3,194.9" fill="none" stroke="#000" stroke-width="1.65" />
<path d="M347.5,212.3 C348.7,213.8 353.0,217.7 354.2,221.4 C355.3,225.1 354.4,232.4 354.5,234.6" fill="none" stroke="#000" stroke-width="1.65" />
<path d="M357.5,268.6 L367.7,275.2" fill="none" stroke="#000" stroke-width="7.67" />
<path d="M365.7,211.5 L372.4,207.3" fill="none" stroke="#000" stroke-width="1.18" />
<path d="M375.7,205.7 L382.3,201.5" fill="none" stroke="#000" stroke-width="1.18" />
<path d="M331.7,209.6 L336.6,204.7 L368.1,181.5 L378.0,179.0 L386.3,181.5 L396.2,186.5 L401.1,193.1 L402.8,201.4 L387.9,198.4 L364.7,214.6 L356.5,226.2 L354.8,239.4 L353.2,245.0 L353.2,288.0 L349.9,292.2 L341.6,289.7 L335.8,281.4 L333.3,245.0 L333.3,221.2 Z" fill="#fff" stroke="#000" stroke-width="1.65" />
<path d="M331.7,211.3 C332.1,212.0 333.0,215.6 335.0,216.3 C336.9,216.9 339.7,219.6 346.5,216.3 C353.4,212.9 380.6,195.6 386.3,191.4 C391.9,187.2 388.4,185.7 388.7,184.8" fill="none" stroke="#000" stroke-width="1.65" />
<ellipse cx="376.3" cy="185.6" rx="4.6" ry="2.3" transform="rotate(-8 376.3 185.6)" fill="none" stroke="#000" stroke-width="2.12" />
<ellipse cx="340.8" cy="210.5" rx="4.6" ry="2.3" transform="rotate(-8 340.8 210.5)" fill="none" stroke="#000" stroke-width="2.12" />
<path d="M333.3,221.6 C334.6,221.0 336.9,218.5 339.9,218.7 C342.9,219.0 345.7,220.1 348.2,222.9 C350.7,225.7 351.5,230.8 352.3,232.8" fill="none" stroke="#000" stroke-width="1.65" />
<path d="M352.3,232.8 L353.2,284.9" fill="none" stroke="#000" stroke-width="1.65" />
<path d="M333.3,221.6 L335.0,284.9" fill="none" stroke="#000" stroke-width="1.65" />
<ellipse cx="342.9" cy="230.3" rx="3.1" ry="4.6" transform="rotate(15 342.9 230.3)" fill="none" stroke="#000" stroke-width="2.12" />
<ellipse cx="344.1" cy="281.7" rx="3.1" ry="4.6" transform="rotate(15 344.1 281.7)" fill="none" stroke="#000" stroke-width="2.12" />
<path d="M388.7,184.8 L390.4,192.3" fill="none" stroke="#000" stroke-width="1.65" />
<path d="M395.4,186.5 L402.0,201.4" fill="none" stroke="#000" stroke-width="1.65" />
<path d="M368.1,204.7 L379.6,197.2" fill="none" stroke="#000" stroke-width="1.18" />
<path d="M353.2,288.4 L366.4,280.6" fill="none" stroke="#000" stroke-width="1.65" />
<path d="M357.8,268.7 L367.2,276.4" fill="none" stroke="#000" stroke-width="7.67" />
<path d="M388.2,198.4 L402.8,201.4 L399.5,205.8 Z" fill="#000" stroke="#000" stroke-width="1.18" />
<path d="M368.1,231.1 L373.0,226.2 L407.8,201.4 L419.3,199.7 L432.6,203.0 L440.9,211.3 L444.2,222.9 L443.3,227.8 L465.7,242.7 L409.4,293.0 L402.8,302.9 L392.9,311.2 L387.9,312.8 L373.0,307.9 L368.9,302.9 Z" fill="#fff" stroke="none" stroke-width="0.0" />
<path d="M409.4,293.0 L402.8,302.9 L392.9,311.2 L387.9,312.8 L373.0,307.9 L368.9,302.9 L368.1,231.1 L373.0,226.2 L407.8,201.4 L419.3,199.7 L432.6,203.0 L440.9,211.3 L444.2,222.9 L443.3,227.8" fill="none" stroke="#000" stroke-width="1.65" />
<path d="M368.9,234.5 C369.4,235.0 370.7,238.2 373.0,238.6 C375.3,239.0 379.6,241.0 386.3,237.8 C392.9,234.6 416.9,218.6 422.7,214.6 C428.4,210.6 428.4,208.9 429.3,208.0" fill="none" stroke="#000" stroke-width="1.65" />
<ellipse cx="415.2" cy="207.5" rx="5.0" ry="2.5" transform="rotate(-8 415.2 207.5)" fill="none" stroke="#000" stroke-width="2.12" />
<ellipse cx="379.6" cy="232.5" rx="5.0" ry="2.5" transform="rotate(-8 379.6 232.5)" fill="none" stroke="#000" stroke-width="2.12" />
<path d="M425.1,211.3 L429.3,213.8 L428.9,209.6" fill="none" stroke="#000" stroke-width="1.42" />
<path d="M373.8,244.7 C375.0,244.0 376.8,240.8 379.6,241.1 C382.5,241.3 385.6,243.1 387.9,246.0 C390.2,249.0 390.6,254.0 391.2,256.0" fill="none" stroke="#000" stroke-width="1.65" />
<path d="M391.2,256.0 L392.0,284.9" fill="none" stroke="#000" stroke-width="1.65" />
<path d="M373.8,244.7 L373.8,284.9" fill="none" stroke="#000" stroke-width="1.65" />
<path d="M392.0,256.6 L392.9,311.2" fill="none" stroke="#000" stroke-width="1.65" />
<path d="M373.8,284.7 C373.2,287.2 369.8,296.0 369.7,299.6 C369.6,303.2 370.0,304.0 373.0,306.2 C376.1,308.4 385.4,311.7 387.9,312.8" fill="none" stroke="#000" stroke-width="1.65" />
<ellipse cx="382.6" cy="252.7" rx="3.3" ry="5.0" transform="rotate(15 382.6 252.7)" fill="none" stroke="#000" stroke-width="2.12" />
<ellipse cx="383.8" cy="302.1" rx="3.3" ry="5.0" transform="rotate(15 383.8 302.1)" fill="none" stroke="#000" stroke-width="2.12" />
<path d="M393.7,252.7 C394.7,250.5 396.9,243.3 399.5,239.4 C402.1,235.6 405.7,232.2 409.4,229.5 C413.1,226.8 419.8,224.3 421.8,223.2" fill="none" stroke="#000" stroke-width="1.65" />
<path d="M422.3,222.9 L466.0,243.1" fill="none" stroke="#000" stroke-width="3.54" />
<path d="M443.3,227.8 L444.2,223.7" fill="none" stroke="#000" stroke-width="1.65" />
<ellipse cx="404.8" cy="169.1" rx="5.0" ry="6.3" transform="rotate(20 404.8 169.1)" fill="#fff" stroke="#000" stroke-width="2.83" />
<ellipse cx="404.5" cy="169.3" rx="2.3" ry="3.3" transform="rotate(20 404.5 169.3)" fill="none" stroke="#000" stroke-width="1.89" />
<path d="M409.1,169.9 L429.3,178.2 L427.3,187.8 L407.4,178.5 Z" fill="#fff" stroke="#000" stroke-width="1.53" />
<path d="M411.9,171.6 L410.1,179.5" fill="none" stroke="#000" stroke-width="2.36" />
<path d="M414.4,172.7 L412.6,180.7" fill="none" stroke="#000" stroke-width="2.36" />
<path d="M416.9,173.7 L415.0,181.8" fill="none" stroke="#000" stroke-width="2.36" />
<path d="M419.3,174.8 L417.5,183.0" fill="none" stroke="#000" stroke-width="2.36" />
<path d="M421.8,175.9 L420.0,184.2" fill="none" stroke="#000" stroke-width="2.36" />
<path d="M424.3,177.0 L422.5,185.3" fill="none" stroke="#000" stroke-width="2.36" />
<path d="M428.0,176.5 C429.5,175.3 433.5,174.9 435.9,175.7 C438.3,176.5 441.5,179.0 442.5,181.5 C443.5,184.0 442.9,188.5 441.7,190.6 C440.4,192.7 437.2,193.9 435.1,193.9 C432.9,193.9 430.3,192.4 428.9,190.6 C427.6,188.8 427.0,185.5 426.8,183.2 C426.6,180.8 426.4,177.8 428.0,176.5 Z" fill="#fff" stroke="#000" stroke-width="1.65" />
<ellipse cx="435.9" cy="184.8" rx="5.0" ry="7.6" transform="rotate(15 435.9 184.8)" fill="none" stroke="#000" stroke-width="1.53" />
<path d="M393.2,254.7 L396.5,246.4 L403.2,236.5 L413.1,226.6 L421.4,223.3 L466.0,242.3 L469.3,238.2 L476.0,236.5 L485.9,242.3 L490.9,246.4 L493.3,253.1 L492.5,259.7 L502.4,267.9 L532.2,284.5 L536.4,307.7 L507.3,399.9 L507.3,404.8 L482.5,428.0 L456.0,443.7 L447.8,444.5 L436.2,438.2 L429.6,443.7 L422.9,443.7 L416.3,437.9 L414.7,428.8 L403.1,421.4 L394.8,414.2 L388.2,402.6 L384.1,387.7 L384.1,362.9 L388.2,338.1 L394.8,319.9 L402.8,302.9 L409.4,293.0 Z" fill="#fff" stroke="none" stroke-width="0.0" />
<path d="M393.2,254.7 L396.5,246.4 L403.2,236.5 L413.1,226.6 L421.4,223.3 L466.0,242.3 L469.3,238.2 L476.0,236.5 L485.9,242.3 L490.9,246.4 L493.3,253.1 L492.5,259.7 L502.4,267.9 L532.2,284.5 L536.4,307.7 L507.3,399.9 L507.3,404.8 L482.5,428.0 L456.0,443.7 L447.8,444.5 L436.2,438.2 L429.6,443.7 L422.9,443.7 L416.3,437.9 L414.7,428.8 L403.1,421.4 L394.8,414.2 L388.2,402.6 L384.1,387.7 L384.1,362.9 L388.2,338.1 L394.8,319.9 L402.8,302.9 L409.4,293.0" fill="none" stroke="#000" stroke-width="1.65" />
<path d="M421.4,223.3 L466.0,242.3" fill="none" stroke="#000" stroke-width="3.78" />
<path d="M384.9,381.1 L401.4,390.2 L403.1,400.9 L401.8,420.0 L394.8,414.2 L388.2,402.6 L384.9,389.3 Z" fill="#000" stroke="#000" stroke-width="1.18" />
<path d="M385.7,367.0 L389.5,367.8" fill="none" stroke="#000" stroke-width="1.65" />
<path d="M387.4,377.8 L396.5,381.9" fill="none" stroke="#000" stroke-width="1.65" />
<path d="M466.0,242.3 C463.0,244.5 446.6,256.5 442.9,258.8 C439.1,261.2 439.5,259.0 437.9,260.0 C436.4,261.0 432.4,263.0 431.3,266.3 C430.2,269.6 429.9,282.1 429.6,284.5" fill="none" stroke="#000" stroke-width="1.65" />
<path d="M442.9,258.8 L452.8,267.9" fill="none" stroke="#000" stroke-width="1.65" />
<path d="M467.7,244.8 L481.3,252.7" fill="none" stroke="#000" stroke-width="1.65" />
<path d="M437.1,289.8 C435.8,290.3 431.2,291.4 429.6,292.8 C428.1,294.1 427.7,296.1 427.7,297.7 C427.7,299.4 428.7,302.0 429.6,302.7 C430.6,303.4 432.7,302.0 433.3,301.9" fill="none" stroke="#000" stroke-width="1.65" />
<path d="M434.6,287.8 L438.2,289.5 L436.3,293.1" fill="none" stroke="#000" stroke-width="1.65" />
<path d="M445.4,281.2 L446.2,273.7 L452.8,267.9 L472.7,256.4 L479.3,250.6 L485.9,247.3 L492.5,250.6 L494.2,259.7 L502.4,267.9 L532.2,284.5 L536.4,307.7" fill="none" stroke="#000" stroke-width="1.65" />
<path d="M445.4,281.2 L442.9,294.4 L441.2,309.3 L427.1,303.3 L410.5,339.7 L405.6,342.2 L400.6,345.5 L399.5,351.3 L401.4,356.3 L405.6,357.1 L405.6,392.7 L403.9,407.5 L407.2,419.1 L409.7,421.4 L413.0,428.0 L447.8,444.5 L456.0,443.7 L482.5,428.0 L507.3,404.8 L507.3,399.9" fill="none" stroke="#000" stroke-width="1.65" />
<path d="M439.5,305.0 L413.8,349.6 L409.7,356.3 L408.9,424.9 L409.7,421.4" fill="none" stroke="#000" stroke-width="1.65" />
<path d="M413.4,423.4 L449.8,441.6" fill="none" stroke="#000" stroke-width="1.42" />
<ellipse cx="485.9" cy="254.2" rx="2.6" ry="3.6" transform="rotate(20 485.9 254.2)" fill="none" stroke="#000" stroke-width="2.6" />
<ellipse cx="451.1" cy="277.4" rx="2.3" ry="3.0" transform="rotate(20 451.1 277.4)" fill="#000" stroke="#000" stroke-width="1.18" />
<ellipse cx="445.4" cy="304.3" rx="2.0" ry="3.0" transform="rotate(20 445.4 304.3)" fill="#000" stroke="#000" stroke-width="1.18" />
<ellipse cx="526.4" cy="294.4" rx="2.3" ry="3.6" transform="rotate(20 526.4 294.4)" fill="#000" stroke="#000" stroke-width="1.18" />
<ellipse cx="418.0" cy="355.8" rx="2.2" ry="3.3" transform="rotate(20 418.0 355.8)" fill="#000" stroke="#000" stroke-width="1.18" />
<ellipse cx="417.2" cy="415.3" rx="2.2" ry="3.3" transform="rotate(20 417.2 415.3)" fill="#000" stroke="#000" stroke-width="1.18" />
<ellipse cx="417.2" cy="415.6" rx="2.2" ry="3.3" transform="rotate(20 417.2 415.6)" fill="none" stroke="#000" stroke-width="2.6" />
<ellipse cx="452.7" cy="436.3" rx="2.2" ry="3.3" transform="rotate(20 452.7 436.3)" fill="#000" stroke="#000" stroke-width="1.18" />
<ellipse cx="500.7" cy="404.8" rx="1.7" ry="2.6" transform="rotate(20 500.7 404.8)" fill="none" stroke="#000" stroke-width="2.36" />
<path d="M414.7,428.3 C415.0,429.9 415.0,435.3 416.3,437.9 C417.7,440.5 420.7,442.7 422.9,443.7 C425.2,444.7 427.4,444.7 429.6,443.7 C431.8,442.7 435.1,438.9 436.2,437.9" fill="none" stroke="#000" stroke-width="1.65" />
<ellipse cx="420.0" cy="433.8" rx="3.6" ry="4.3" transform="rotate(0 420.0 433.8)" fill="none" stroke="#000" stroke-width="2.6" />
<ellipse cx="431.6" cy="438.2" rx="2.0" ry="2.3" transform="rotate(0 431.6 438.2)" fill="none" stroke="#000" stroke-width="1.65" />
<path d="M487.5,271.3 C486.4,270.0 483.4,264.9 480.9,263.8 C478.4,262.7 475.7,263.7 472.7,264.6 C469.6,265.6 465.8,266.8 462.7,269.6 C459.7,272.4 456.1,277.0 454.5,281.2 C452.8,285.3 454.7,287.7 452.8,294.4 C450.9,301.1 446.1,314.2 442.8,321.5 C439.5,328.8 435.6,331.4 432.9,338.1 C430.1,344.7 427.6,353.2 426.3,361.2 C424.9,369.2 424.1,378.3 424.6,386.0 C425.2,393.8 427.6,402.0 429.6,407.5 C431.5,413.1 435.6,417.9 436.2,419.1 C436.7,420.3 431.8,414.5 432.9,414.7 C434.0,415.0 438.9,419.7 442.8,420.5 C446.7,421.4 451.1,421.0 456.0,419.7 C461.0,418.5 467.1,416.7 472.6,413.1 C478.1,409.5 486.4,400.7 489.1,398.2" fill="none" stroke="#000" stroke-width="2.6" />
<path d="M452.8,294.4 C452.8,296.1 450.0,304.3 452.8,304.3 C455.6,304.3 466.6,296.1 469.3,294.4" fill="none" stroke="#000" stroke-width="1.89" />
<path d="M454.5,299.7 C454.4,298.1 455.4,296.1 457.8,294.8 C460.1,293.4 464.0,292.5 466.0,292.8 C468.1,293.0 469.6,294.0 468.0,296.1 C466.4,298.1 460.8,302.3 458.1,303.0 C455.4,303.8 454.5,301.4 454.5,299.7 Z" fill="none" stroke="#000" stroke-width="2.12" />
<path d="M442.8,321.5 C444.2,320.8 448.3,317.9 451.1,317.4 C453.8,316.8 457.1,317.0 459.3,318.2 C461.6,319.4 463.2,321.8 464.3,324.8 C465.4,327.9 465.7,334.5 466.0,336.4" fill="none" stroke="#000" stroke-width="2.36" />
<path d="M452.7,319.9 C453.1,322.1 455.8,328.4 455.2,333.1 C454.7,337.8 452.6,344.0 449.4,348.0 C446.2,352.0 439.2,355.1 436.2,357.1 C433.2,359.1 432.0,359.4 431.2,359.9" fill="none" stroke="#000" stroke-width="1.65" />
<path d="M432.9,363.7 C434.5,364.0 439.8,365.7 442.8,365.4 C445.8,365.0 449.7,362.2 451.1,361.6" fill="none" stroke="#000" stroke-width="1.65" />
<path d="M444.5,415.6 C448.6,413.8 462.4,409.1 469.3,404.8 C476.2,400.5 483.1,392.4 485.8,389.9" fill="none" stroke="#000" stroke-width="1.65" />
<ellipse cx="436.2" cy="414.7" rx="6.6" ry="4.6" transform="rotate(-20 436.2 414.7)" fill="none" stroke="#000" stroke-width="1.53" />
<path d="M502.4,328.1 L504.0,341.4" fill="none" stroke="#000" stroke-width="1.65" />
<path d="M518.9,328.1 L519.7,344.7" fill="none" stroke="#000" stroke-width="1.65" />
<path d="M472.7,307.7 L474.3,320.9" fill="none" stroke="#000" stroke-width="1.65" />
<path d="M487.5,320.9 L488.4,330.8" fill="none" stroke="#000" stroke-width="1.65" />
<path d="M536.4,307.7 L518.9,328.1" fill="none" stroke="#000" stroke-width="1.42" />
<path d="M394.8,443.7 L403.1,437.1 L409.7,438.7 L410.5,446.2 L403.1,451.5 L396.5,450.3 Z" fill="#fff" stroke="#000" stroke-width="2.36" />
<path d="M394.8,443.7 L401.4,445.4 L409.7,439.6" fill="none" stroke="#000" stroke-width="1.65" />
<path d="M401.4,445.4 L402.3,451.1" fill="none" stroke="#000" stroke-width="1.65" />
<path d="M456.2,367.1 L454.8,366.4 L453.6,365.5 L452.6,364.2 L451.8,362.6 L451.2,360.8 L450.8,358.8 L450.7,356.7 L450.8,354.4 L451.2,352.2 L451.8,349.9 L452.6,347.7 L453.7,345.6 L454.9,343.7 L456.2,342.1 L457.7,340.7 L459.3,339.6 L460.8,338.8 L462.4,338.3 L464.0,338.3 L465.5,338.6 L469.5,340.6 L470.8,341.2 L472.0,342.2 L473.1,343.4 L473.9,345.0 L474.5,346.8 L474.9,348.8 L475.0,351.0 L474.8,353.2 L474.5,355.5 L473.9,357.8 L473.0,360.0 L472.0,362.0 L470.8,363.9 L469.4,365.6 L467.9,367.0 L466.4,368.1 L464.8,368.9 L463.2,369.3 L461.7,369.4 L460.2,369.1 Z" fill="#fff" stroke="#000" stroke-width="2.12" />
<ellipse cx="464.8" cy="354.8" rx="9.5" ry="15.0" transform="rotate(18 464.8 354.8)" fill="#fff" stroke="#000" stroke-width="2.12" />
<ellipse cx="464.8" cy="354.8" rx="7.0" ry="11.5" transform="rotate(18 464.8 354.8)" fill="none" stroke="#000" stroke-width="3.07" />
<ellipse cx="464.8" cy="354.8" rx="4.0" ry="7.0" transform="rotate(18 464.8 354.8)" fill="none" stroke="#000" stroke-width="2.83" />
<ellipse cx="464.8" cy="354.8" rx="1.5" ry="3.0" transform="rotate(18 464.8 354.8)" fill="#000" stroke="#000" stroke-width="1.77" />
<path d="M468.1,349.9 L481.4,354.8" fill="none" stroke="#000" stroke-width="1.42" />
<path d="M472.3,377.8 L470.8,377.1 L469.4,376.0 L468.3,374.6 L467.4,372.9 L466.7,370.9 L466.3,368.7 L466.2,366.3 L466.3,363.9 L466.7,361.3 L467.4,358.8 L468.3,356.4 L469.5,354.2 L470.8,352.1 L472.3,350.2 L473.9,348.7 L475.6,347.5 L477.4,346.6 L479.1,346.2 L480.9,346.1 L482.5,346.4 L484.5,347.4 L486.0,348.1 L487.3,349.2 L488.5,350.6 L489.4,352.3 L490.0,354.3 L490.5,356.5 L490.6,358.9 L490.5,361.3 L490.0,363.8 L489.4,366.3 L488.4,368.8 L487.3,371.0 L486.0,373.1 L484.5,374.9 L482.8,376.5 L481.1,377.7 L479.4,378.5 L477.6,379.0 L475.9,379.1 L474.3,378.8 Z" fill="#fff" stroke="#000" stroke-width="1.89" />
<ellipse cx="479.4" cy="363.1" rx="10.5" ry="16.5" transform="rotate(18 479.4 363.1)" fill="#fff" stroke="#000" stroke-width="1.89" />
<path d="M483.4,354.8 C482.3,355.1 478.6,355.0 477.2,356.5 C475.8,358.0 475.0,361.7 475.1,363.9 C475.2,366.1 476.7,369.0 477.7,369.7 C478.8,370.5 480.8,368.6 481.4,368.4" fill="none" stroke="#000" stroke-width="2.12" />
<path d="M483.4,354.8 C483.7,355.4 485.7,357.2 485.5,358.1 C485.3,359.1 482.6,359.6 482.2,360.6 C481.8,361.6 483.2,363.4 483.4,363.9" fill="none" stroke="#000" stroke-width="1.65" />
<path d="M475.6,379.6 L479.7,386.3" fill="none" stroke="#000" stroke-width="1.42" />
<path d="M481.4,384.6 L492.9,392.9" fill="none" stroke="#000" stroke-width="4.72" />
<path d="M479.4,323.6 L476.9,322.5 L474.7,320.7 L472.8,318.5 L471.2,315.7 L470.0,312.5 L469.3,309.0 L469.0,305.3 L469.2,301.3 L469.8,297.3 L470.9,293.4 L472.3,289.6 L474.2,286.0 L476.3,282.7 L478.8,279.8 L481.4,277.4 L484.2,275.5 L487.1,274.2 L490.0,273.5 L492.9,273.4 L495.6,274.0 L508.0,279.0 L510.5,280.1 L512.7,281.9 L514.6,284.1 L516.2,286.9 L517.4,290.1 L518.1,293.6 L518.4,297.3 L518.2,301.3 L517.6,305.3 L516.5,309.2 L515.1,313.0 L513.2,316.6 L511.1,319.9 L508.6,322.8 L506.0,325.2 L503.2,327.1 L500.3,328.4 L497.4,329.1 L494.5,329.2 L491.8,328.6 Z" fill="#fff" stroke="#000" stroke-width="1.89" />
<ellipse cx="499.9" cy="303.8" rx="17.5" ry="26.1" transform="rotate(18 499.9 303.8)" fill="#fff" stroke="#000" stroke-width="1.89" />
<path d="M476.7,322.3 L474.8,320.8 L473.2,319.0 L471.8,316.8 L470.6,314.3 L469.8,311.6 L469.3,308.6 L469.0,305.5 L469.1,302.2 L475.9,305.0 L475.8,308.2 L476.1,311.4 L476.6,314.3 L477.5,317.1 L478.6,319.6 L480.0,321.8 L481.6,323.6 L483.5,325.1 Z" fill="#000" stroke="#000" stroke-width="0.94" />
<ellipse cx="499.9" cy="303.8" rx="14.7" ry="21.9" transform="rotate(18 499.9 303.8)" fill="none" stroke="#000" stroke-width="1.53" />
<ellipse cx="500.4" cy="304.1" rx="12.2" ry="18.3" transform="rotate(18 500.4 304.1)" fill="none" stroke="#000" stroke-width="3.07" stroke-dasharray="5 2.2"/>
<ellipse cx="499.9" cy="303.8" rx="9.8" ry="14.6" transform="rotate(18 499.9 303.8)" fill="#fff" stroke="#000" stroke-width="2.36" />
<ellipse cx="499.4" cy="303.8" rx="6.6" ry="9.9" transform="rotate(18 499.4 303.8)" fill="none" stroke="#000" stroke-width="2.12" />
<path d="M500.4,300.5 L514.5,298.4 L522.4,304.6 L520.2,318.7 L507.0,320.9 L499.2,312.1 Z" fill="#fff" stroke="#000" stroke-width="1.42" />
<path d="M500.9,301.0 L520.2,307.2" fill="none" stroke="#000" stroke-width="2.83" />
<path d="M501.4,303.8 L520.2,310.0" fill="none" stroke="#000" stroke-width="2.83" />
<path d="M500.9,306.6 L520.2,312.8" fill="none" stroke="#000" stroke-width="2.83" />
<path d="M501.4,309.4 L520.2,315.6" fill="none" stroke="#000" stroke-width="2.83" />
<path d="M500.9,312.2 L520.2,318.4" fill="none" stroke="#000" stroke-width="2.83" />
<path d="M501.4,315.1 L520.2,321.3" fill="none" stroke="#000" stroke-width="2.83" />
<path d="M500.9,317.9 L520.2,324.1" fill="none" stroke="#000" stroke-width="2.83" />
<path d="M491.6,393.0 L489.1,391.8 L486.8,390.1 L484.8,387.8 L483.2,385.0 L482.1,381.7 L481.3,378.2 L481.0,374.4 L481.2,370.4 L481.8,366.3 L482.9,362.3 L484.4,358.4 L486.3,354.8 L488.5,351.5 L491.0,348.5 L493.7,346.1 L496.5,344.2 L499.4,342.9 L502.4,342.1 L505.2,342.0 L508.0,342.6 L521.0,348.6 L523.5,349.8 L525.8,351.5 L527.8,353.8 L529.4,356.6 L530.5,359.9 L531.3,363.4 L531.6,367.2 L531.4,371.2 L530.8,375.3 L529.7,379.3 L528.2,383.2 L526.3,386.8 L524.1,390.1 L521.6,393.1 L518.9,395.5 L516.1,397.4 L513.2,398.7 L510.2,399.5 L507.4,399.6 L504.6,399.0 Z" fill="#fff" stroke="#000" stroke-width="1.89" />
<ellipse cx="512.8" cy="373.8" rx="17.8" ry="26.5" transform="rotate(18 512.8 373.8)" fill="#fff" stroke="#000" stroke-width="1.89" />
<path d="M488.8,391.7 L486.9,390.2 L485.2,388.3 L483.8,386.1 L482.7,383.6 L481.8,380.8 L481.3,377.8 L481.0,374.6 L481.1,371.3 L488.3,374.6 L488.2,377.9 L488.4,381.1 L489.0,384.1 L489.8,386.9 L491.0,389.4 L492.4,391.6 L494.1,393.5 L496.0,395.0 Z" fill="#000" stroke="#000" stroke-width="0.94" />
<ellipse cx="512.8" cy="373.8" rx="14.9" ry="22.3" transform="rotate(18 512.8 373.8)" fill="none" stroke="#000" stroke-width="1.53" />
<ellipse cx="513.3" cy="374.1" rx="12.4" ry="18.5" transform="rotate(18 513.3 374.1)" fill="none" stroke="#000" stroke-width="3.07" stroke-dasharray="5 2.2"/>
<ellipse cx="512.8" cy="373.8" rx="9.9" ry="14.8" transform="rotate(18 512.8 373.8)" fill="#fff" stroke="#000" stroke-width="2.36" />
<ellipse cx="512.3" cy="373.8" rx="6.7" ry="10.1" transform="rotate(18 512.3 373.8)" fill="none" stroke="#000" stroke-width="2.12" />
<path d="M521.1,303.8 L587.3,336.9 L574.0,351.8 L512.8,322.8 Z" fill="#fff" stroke="none" stroke-width="0.0" />
<path d="M521.1,303.8 L587.3,336.9" fill="none" stroke="#000" stroke-width="1.65" />
<path d="M512.8,322.8 L574.0,351.8" fill="none" stroke="#000" stroke-width="3.78" />
<ellipse cx="582.0" cy="344.3" rx="7.9" ry="7.6" transform="rotate(0 582.0 344.3)" fill="#fff" stroke="#000" stroke-width="1.53" />
<path d="M541.3,326.5 L545.9,328.6 L554.2,324.2" fill="none" stroke="#000" stroke-width="2.6" />
<path d="M541.3,326.5 L543.4,332.8" fill="none" stroke="#000" stroke-width="1.89" />
<path d="M519.4,407.1 L517.0,406.0 L514.9,404.4 L513.1,402.4 L511.6,399.8 L510.4,397.0 L509.7,393.8 L509.4,390.4 L509.5,386.8 L510.0,383.2 L511.0,379.7 L512.3,376.2 L514.0,373.0 L516.0,370.1 L518.2,367.5 L520.7,365.3 L523.3,363.7 L526.0,362.5 L528.7,361.9 L531.4,361.9 L533.9,362.4 L537.4,363.9 L539.8,365.0 L541.9,366.6 L543.8,368.7 L545.3,371.2 L546.4,374.1 L547.1,377.2 L547.5,380.7 L547.3,384.2 L546.8,387.8 L545.9,391.4 L544.5,394.8 L542.9,398.0 L540.9,400.9 L538.6,403.5 L536.1,405.7 L533.5,407.3 L530.8,408.5 L528.1,409.1 L525.5,409.1 L522.9,408.6 Z" fill="#fff" stroke="#000" stroke-width="2.12" />
<ellipse cx="530.2" cy="386.3" rx="16.5" ry="23.5" transform="rotate(18 530.2 386.3)" fill="#fff" stroke="#000" stroke-width="2.12" />
<ellipse cx="530.7" cy="385.8" rx="8.2" ry="12.5" transform="rotate(18 530.7 385.8)" fill="none" stroke="#000" stroke-width="2.36" />
<path d="M523.2,379.3 L523.8,378.4 L524.5,377.5 L525.2,376.7 L525.9,376.0 L526.7,375.3 L527.5,374.8 L528.3,374.3 L529.1,374.0 L529.9,373.8 L530.8,373.6 L531.6,373.6 L532.3,373.7 L533.1,373.9 L533.8,374.2 L534.5,374.6 L535.1,375.1 L535.7,375.7 L536.2,376.4 L536.7,377.2 L537.0,378.0 L537.4,378.9 L537.6,379.9 L537.8,380.9 L537.9,382.0" fill="none" stroke="#000" stroke-width="1.42" />
<path d="M562.0,484.4 L560.3,483.9 L558.6,483.2 L557.0,482.3 L555.5,481.3 L554.0,480.0 L552.6,478.6 L551.4,477.1 L550.2,475.4 L549.0,473.5 L548.0,471.5 L547.1,469.4 L546.3,467.1 L545.6,464.7 L545.0,462.2 L544.5,459.6 L544.1,456.9 L543.8,454.1 L543.7,451.2 L543.6,448.3 L543.7,445.3 L543.8,442.2 L544.1,439.1 L544.5,435.9 L545.0,432.8 L545.6,429.6 L546.4,426.4 L547.2,423.2 L548.1,420.0 L549.1,416.9 L550.3,413.8 L551.5,410.7 L552.8,407.7 L554.1,404.8 L555.6,402.0 L557.1,399.2 L558.8,396.5 L560.4,393.9 L562.2,391.5 L563.9,389.1 L565.8,386.9 L567.6,384.8 L569.5,382.9 L571.5,381.0 L573.4,379.4 L575.4,377.9 L577.4,376.6 L579.4,375.4 L581.4,374.4 L583.4,373.5 L585.4,372.9 L587.3,372.4 L589.3,372.1 L591.2,372.0 L593.0,372.1 L594.8,372.3 L596.6,372.7 L598.3,373.3 L599.9,374.1 L601.5,375.0 L603.0,376.1 L579.5,365.1 L577.9,364.0 L576.4,363.1 L574.7,362.3 L573.0,361.7 L571.3,361.3 L569.5,361.1 L567.6,361.0 L565.7,361.1 L563.8,361.4 L561.8,361.9 L559.8,362.6 L557.9,363.4 L555.9,364.4 L553.9,365.6 L551.9,366.9 L549.9,368.4 L547.9,370.0 L546.0,371.9 L544.1,373.8 L542.2,375.9 L540.4,378.1 L538.6,380.5 L536.9,382.9 L535.2,385.5 L533.6,388.2 L532.1,391.0 L530.6,393.8 L529.2,396.8 L527.9,399.7 L526.7,402.8 L525.6,405.9 L524.6,409.0 L523.6,412.2 L522.8,415.4 L522.1,418.6 L521.5,421.8 L521.0,424.9 L520.6,428.1 L520.3,431.2 L520.1,434.3 L520.0,437.3 L520.1,440.2 L520.3,443.1 L520.5,445.9 L520.9,448.6 L521.4,451.2 L522.0,453.7 L522.7,456.1 L523.6,458.4 L524.5,460.5 L525.5,462.5 L526.6,464.4 L527.8,466.1 L529.1,467.6 L530.5,469.0 L531.9,470.3 L533.5,471.3 L535.1,472.2 L536.7,472.9 L538.4,473.5 Z" fill="#000" stroke="#000" stroke-width="1.18" />
<path d="M562.1,484.5 L559.8,483.7 L536.2,472.7 L538.6,473.5 Z" fill="#fff" stroke="#000" stroke-width="1.06" />
<path d="M557.9,482.8 L555.7,481.4 L532.2,470.4 L534.3,471.8 Z" fill="#fff" stroke="#000" stroke-width="1.06" />
<path d="M554.0,480.0 L552.2,478.1 L528.6,467.1 L530.5,469.0 Z" fill="#fff" stroke="#000" stroke-width="1.06" />
<path d="M550.7,476.2 L549.2,473.7 L525.6,462.7 L527.2,465.2 Z" fill="#fff" stroke="#000" stroke-width="1.06" />
<path d="M548.0,471.4 L546.8,468.4 L523.2,457.4 L524.4,460.4 Z" fill="#fff" stroke="#000" stroke-width="1.06" />
<path d="M545.9,465.7 L545.0,462.4 L521.4,451.4 L522.3,454.7 Z" fill="#fff" stroke="#000" stroke-width="1.06" />
<path d="M544.4,459.3 L543.9,455.6 L520.4,444.6 L520.9,448.3 Z" fill="#fff" stroke="#000" stroke-width="1.06" />
<path d="M543.7,452.3 L543.6,448.2 L520.0,437.2 L520.1,441.3 Z" fill="#fff" stroke="#000" stroke-width="1.06" />
<path d="M543.7,444.7 L544.0,440.5 L520.4,429.5 L520.1,433.7 Z" fill="#fff" stroke="#000" stroke-width="1.06" />
<path d="M544.4,436.8 L545.1,432.5 L521.5,421.5 L520.8,425.8 Z" fill="#fff" stroke="#000" stroke-width="1.06" />
<path d="M545.8,428.8 L546.9,424.5 L523.3,413.5 L522.2,417.8 Z" fill="#fff" stroke="#000" stroke-width="1.06" />
<path d="M547.9,420.8 L549.3,416.5 L525.7,405.5 L524.3,409.8 Z" fill="#fff" stroke="#000" stroke-width="1.06" />
<path d="M550.6,412.9 L552.3,408.7 L528.8,397.7 L527.1,401.9 Z" fill="#fff" stroke="#000" stroke-width="1.06" />
<path d="M553.9,405.3 L555.9,401.4 L532.4,390.4 L530.4,394.3 Z" fill="#fff" stroke="#000" stroke-width="1.06" />
<path d="M557.7,398.2 L560.0,394.6 L536.4,383.6 L534.2,387.2 Z" fill="#fff" stroke="#000" stroke-width="1.06" />
<path d="M562.0,391.7 L564.4,388.5 L540.8,377.5 L538.4,380.7 Z" fill="#fff" stroke="#000" stroke-width="1.06" />
<path d="M566.6,386.0 L569.1,383.3 L545.6,372.3 L543.0,375.0 Z" fill="#fff" stroke="#000" stroke-width="1.06" />
<path d="M571.4,381.1 L574.1,378.9 L550.5,367.9 L547.8,370.1 Z" fill="#fff" stroke="#000" stroke-width="1.06" />
<path d="M576.4,377.2 L579.1,375.5 L555.6,364.6 L552.8,366.2 Z" fill="#fff" stroke="#000" stroke-width="1.06" />
<path d="M581.4,374.4 L584.2,373.3 L560.6,362.3 L557.9,363.4 Z" fill="#fff" stroke="#000" stroke-width="1.06" />
<path d="M586.4,372.6 L589.1,372.1 L565.5,361.1 L562.9,361.6 Z" fill="#fff" stroke="#000" stroke-width="1.06" />
<path d="M591.3,372.0 L593.8,372.1 L570.3,361.1 L567.7,361.0 Z" fill="#fff" stroke="#000" stroke-width="1.06" />
<path d="M595.9,372.5 L598.2,373.3 L574.7,362.3 L572.3,361.5 Z" fill="#fff" stroke="#000" stroke-width="1.06" />
<path d="M600.1,374.2 L602.3,375.6 L578.7,364.6 L576.6,363.2 Z" fill="#fff" stroke="#000" stroke-width="1.06" />
<path d="M588.9,461.8 L590.5,468.7 L588.1,471.3 L586.2,464.7" fill="#fff" stroke="#000" stroke-width="1.3" />
<path d="M585.1,465.7 L586.0,473.4 L583.5,475.5 L582.3,468.1" fill="#fff" stroke="#000" stroke-width="1.3" />
<path d="M581.2,468.9 L581.3,477.1 L578.7,478.7 L578.3,470.7" fill="#fff" stroke="#000" stroke-width="1.3" />
<path d="M577.2,471.3 L576.5,479.8 L574.0,480.8 L574.4,472.5" fill="#fff" stroke="#000" stroke-width="1.3" />
<path d="M573.3,472.8 L571.8,481.5 L569.3,481.9 L570.5,473.3" fill="#fff" stroke="#000" stroke-width="1.3" />
<path d="M569.5,473.4 L567.3,482.1 L564.9,482.0 L566.9,473.2" fill="#fff" stroke="#000" stroke-width="1.3" />
<path d="M565.9,473.1 L563.0,481.6 L560.8,480.9 L563.4,472.3" fill="#fff" stroke="#000" stroke-width="1.3" />
<path d="M562.5,471.8 L559.0,480.0 L557.0,478.7 L560.3,470.4" fill="#fff" stroke="#000" stroke-width="1.3" />
<path d="M559.5,469.7 L555.4,477.4 L553.7,475.6 L557.6,467.7" fill="#fff" stroke="#000" stroke-width="1.3" />
<path d="M556.9,466.8 L552.3,473.8 L550.8,471.5 L555.3,464.2" fill="#fff" stroke="#000" stroke-width="1.3" />
<path d="M554.7,463.0 L549.7,469.3 L548.6,466.5 L553.5,459.9" fill="#fff" stroke="#000" stroke-width="1.3" />
<path d="M553.0,458.6 L547.8,463.9 L547.0,460.7 L552.2,455.0" fill="#fff" stroke="#000" stroke-width="1.3" />
<path d="M551.9,453.6 L546.5,457.8 L546.0,454.3 L551.4,449.6" fill="#fff" stroke="#000" stroke-width="1.3" />
<path d="M551.3,448.0 L545.8,451.1 L545.7,447.3 L551.2,443.8" fill="#fff" stroke="#000" stroke-width="1.3" />
<ellipse cx="579.0" cy="428.5" rx="25.0" ry="46.5" transform="rotate(18 579.0 428.5)" fill="#fff" stroke="#000" stroke-width="1.77" />
<path d="M585.7,465.2 L582.3,468.1 L578.9,470.4 L575.5,472.0 L572.2,473.1 L569.0,473.4 L565.9,473.1 L563.0,472.1 L560.4,470.4 L558.0,468.2 L555.9,465.3 L554.9,462.8 L557.0,465.7 L559.4,467.9 L562.0,469.6 L564.9,470.6 L568.0,470.9 L571.2,470.6 L574.5,469.5 L577.9,467.9 L581.3,465.6 L584.7,462.7 Z" fill="#000" stroke="#000" stroke-width="0.94" />
<path d="M594.9,422.2 L592.3,423.7 L592.5,427.2 L589.9,427.3 L589.1,431.1 L586.9,429.7 L585.2,433.1 L583.8,430.5 L581.4,433.0 L581.0,429.6 L578.3,430.8 L578.9,427.1 L576.3,426.9 L577.9,423.4 L575.8,421.8 L578.1,419.1 L576.8,416.3 L579.5,414.8 L579.2,411.2 L581.9,411.1 L582.7,407.4 L584.8,408.8 L586.6,405.4 L588.0,408.0 L590.4,405.4 L590.8,408.9 L593.5,407.6 L592.9,411.4 L595.4,411.6 L593.9,415.1 L595.9,416.7 L593.7,419.4 Z" fill="#fff" stroke="#000" stroke-width="1.89" />
<ellipse cx="564.6" cy="451.1" rx="4.7" ry="8.5" transform="rotate(22 564.6 451.1)" fill="none" stroke="#000" stroke-width="1.65" />
<path d="M555.4,433.2 L554.8,432.9 L554.3,432.5 L553.8,432.0 L553.4,431.3 L553.1,430.5 L552.9,429.6 L552.7,428.6 L552.7,427.6 L552.7,426.5 L552.9,425.4 L553.1,424.2 L553.4,423.1 L553.8,422.0 L554.3,420.9 L554.9,420.0 L555.5,419.0 L556.1,418.2 L556.8,417.5 L557.5,416.9 L558.2,416.5 L559.0,416.2 L559.7,416.0 L560.3,416.0 L561.0,416.1" fill="none" stroke="#000" stroke-width="1.53" />
<path d="M567.3,393.7 L567.3,392.9 L567.4,391.9 L567.6,391.0 L567.9,390.0 L568.3,389.0 L568.8,388.0 L569.4,387.0 L570.1,386.0 L570.9,385.1 L571.7,384.3 L572.6,383.5 L573.4,382.9 L574.3,382.3 L575.2,381.9 L576.1,381.6 L576.9,381.4 L577.7,381.4 L578.4,381.5 L579.1,381.7 L579.6,382.0 L580.1,382.5 L580.4,383.0 L580.7,383.7 L580.8,384.5" fill="none" stroke="#000" stroke-width="1.53" />
<path d="M569.8,391.9 C570.5,390.8 572.4,387.1 574.1,385.5 C575.8,383.9 579.0,382.9 580.0,382.3" fill="none" stroke="#000" stroke-width="1.42" />
<path d="M563.5,458.5 L568.8,445.8" fill="none" stroke="#000" stroke-width="1.18" />
<path d="M595.6,339.5 L626.2,353.1 L627.8,363.0 L609.6,380.4 L583.2,369.6 L581.2,356.4 L586.5,344.8 Z" fill="#000" stroke="#000" stroke-width="1.42" />
<path d="M593.9,340.7 L624.9,353.9 L624.2,357.9 L593.3,344.7 Z" fill="#fff" stroke="#000" stroke-width="0.94" />
<path d="M587.3,346.5 L621.2,360.5 L620.6,364.5 L586.6,350.4 Z" fill="#fff" stroke="#000" stroke-width="0.94" />
<path d="M584.0,353.1 L616.3,366.3 L615.6,370.3 L583.3,357.1 Z" fill="#fff" stroke="#000" stroke-width="0.94" />
<path d="M583.2,360.5 L612.1,372.6 L611.5,376.6 L582.5,364.5 Z" fill="#fff" stroke="#000" stroke-width="0.94" />
<path d="M584.8,367.2 L609.6,377.9 L609.0,381.9 L584.2,371.1 Z" fill="#fff" stroke="#000" stroke-width="0.94" />
<path d="M609.6,360.5 L622.9,355.6 L636.1,362.2 L632.8,377.9 L622.9,382.9 L609.6,377.9 Z" fill="#fff" stroke="#000" stroke-width="1.53" />
<ellipse cx="625.4" cy="369.6" rx="4.6" ry="12.4" transform="rotate(18 625.4 369.6)" fill="none" stroke="#000" stroke-width="1.53" />
<ellipse cx="614.6" cy="368.0" rx="5.0" ry="13.2" transform="rotate(18 614.6 368.0)" fill="none" stroke="#000" stroke-width="1.53" />
<path d="M598.9,381.2 C599.0,382.0 598.7,385.2 599.7,386.2 C600.7,387.1 603.6,387.6 604.7,387.0 C605.8,386.5 606.1,383.6 606.3,382.9" fill="none" stroke="#000" stroke-width="1.65" />
<path d="M636.0,407.2 L633.3,406.0 L631.0,404.1 L629.0,401.8 L627.4,398.9 L626.1,395.6 L625.4,391.9 L625.1,388.0 L625.2,383.8 L625.9,379.7 L627.0,375.5 L628.5,371.6 L630.5,367.8 L632.7,364.4 L635.3,361.4 L638.1,358.8 L641.0,356.9 L644.0,355.5 L647.0,354.8 L650.0,354.7 L652.8,355.2 L665.2,360.2 L667.9,361.4 L670.2,363.3 L672.2,365.6 L673.8,368.5 L675.1,371.8 L675.8,375.5 L676.1,379.4 L676.0,383.6 L675.3,387.7 L674.2,391.9 L672.7,395.8 L670.7,399.6 L668.5,403.0 L665.9,406.0 L663.1,408.6 L660.2,410.5 L657.2,411.9 L654.2,412.6 L651.2,412.7 L648.4,412.2 Z" fill="#fff" stroke="#000" stroke-width="1.89" />
<ellipse cx="656.8" cy="386.2" rx="18.3" ry="27.3" transform="rotate(18 656.8 386.2)" fill="#fff" stroke="#000" stroke-width="1.89" />
<path d="M633.1,405.8 L631.1,404.3 L629.4,402.3 L627.9,400.1 L626.8,397.5 L625.9,394.6 L625.3,391.5 L625.1,388.2 L625.2,384.8 L632.0,387.5 L631.9,390.9 L632.1,394.2 L632.7,397.3 L633.6,400.2 L634.8,402.8 L636.2,405.1 L637.9,407.0 L639.9,408.5 Z" fill="#000" stroke="#000" stroke-width="0.94" />
<ellipse cx="656.8" cy="386.2" rx="15.4" ry="22.9" transform="rotate(18 656.8 386.2)" fill="none" stroke="#000" stroke-width="1.53" />
<ellipse cx="657.3" cy="386.5" rx="12.8" ry="19.1" transform="rotate(18 657.3 386.5)" fill="none" stroke="#000" stroke-width="3.07" stroke-dasharray="5 2.2"/>
<ellipse cx="656.8" cy="386.2" rx="10.2" ry="15.3" transform="rotate(18 656.8 386.2)" fill="#fff" stroke="#000" stroke-width="2.36" />
<ellipse cx="656.3" cy="386.2" rx="7.0" ry="10.4" transform="rotate(18 656.3 386.2)" fill="none" stroke="#000" stroke-width="2.12" />
<path d="M603.9,418.2 C605.3,416.6 608.3,411.1 612.2,408.6 C616.1,406.0 624.6,403.9 627.1,402.9" fill="none" stroke="#000" stroke-width="1.53" />
<path d="M606.4,422.3 C607.8,420.7 611.1,415.4 614.7,412.9 C618.3,410.4 625.7,408.3 627.9,407.4" fill="none" stroke="#000" stroke-width="1.53" />
<path d="M602.3,417.3 L607.2,423.1" fill="none" stroke="#000" stroke-width="5.9" />
<path d="M596.1,432.2 C595.6,434.3 593.4,440.1 593.2,444.6 C592.9,449.2 593.3,455.5 594.8,459.5 C596.3,463.5 599.9,467.5 602.3,468.6 C604.6,469.7 607.8,466.6 608.9,466.1" fill="none" stroke="#000" stroke-width="1.53" />
<path d="M600.6,433.9 C600.1,435.7 598.0,440.8 597.8,444.6 C597.6,448.5 598.2,453.9 599.5,457.0 C600.7,460.2 604.6,462.6 605.6,463.7" fill="none" stroke="#000" stroke-width="1.53" />
<path d="M594.8,430.6 L601.4,432.7" fill="none" stroke="#000" stroke-width="5.9" />
<ellipse cx="588.5" cy="444.6" rx="2.0" ry="4.6" transform="rotate(10 588.5 444.6)" fill="none" stroke="#000" stroke-width="1.53" />
<path d="M620.4,482.4 L616.9,480.8 L613.9,478.4 L611.3,475.1 L609.2,471.2 L607.7,466.6 L606.7,461.5 L606.4,456.1 L606.8,450.4 L607.7,444.6 L609.3,438.9 L611.4,433.3 L614.0,428.1 L617.1,423.3 L620.5,419.1 L624.3,415.5 L628.2,412.7 L632.2,410.7 L636.2,409.6 L640.1,409.4 L643.8,410.2 L659.5,416.8 L663.0,418.4 L666.0,420.8 L668.6,424.1 L670.7,428.0 L672.2,432.6 L673.2,437.7 L673.5,443.1 L673.1,448.8 L672.2,454.6 L670.6,460.3 L668.5,465.9 L665.9,471.1 L662.8,475.9 L659.4,480.1 L655.6,483.7 L651.7,486.5 L647.7,488.5 L643.7,489.6 L639.8,489.8 L636.1,489.0 Z" fill="#fff" stroke="#000" stroke-width="1.89" />
<ellipse cx="647.8" cy="452.9" rx="24.0" ry="38.0" transform="rotate(18 647.8 452.9)" fill="#fff" stroke="#000" stroke-width="1.89" />
<path d="M618.4,481.7 L615.9,480.1 L613.6,478.1 L611.6,475.7 L609.9,472.8 L608.5,469.5 L607.5,465.9 L606.8,462.1 L606.5,457.9 L620.2,463.5 L620.5,467.7 L621.2,471.5 L622.2,475.1 L623.6,478.4 L625.3,481.3 L627.3,483.7 L629.6,485.7 L632.1,487.3 Z" fill="#000" stroke="#000" stroke-width="0.94" />
<line x1="611.0" y1="443.2" x2="617.0" y2="445.7" stroke="#000" stroke-width="1.0"/>
<line x1="609.8" y1="448.9" x2="615.8" y2="451.4" stroke="#000" stroke-width="1.0"/>
<line x1="609.2" y1="454.7" x2="615.2" y2="457.2" stroke="#000" stroke-width="1.0"/>
<line x1="609.2" y1="460.3" x2="615.2" y2="462.8" stroke="#000" stroke-width="1.0"/>
<line x1="609.9" y1="465.5" x2="615.9" y2="468.0" stroke="#000" stroke-width="1.0"/>
<ellipse cx="647.8" cy="452.9" rx="21.1" ry="33.4" transform="rotate(18 647.8 452.9)" fill="none" stroke="#000" stroke-width="1.53" />
<ellipse cx="648.1" cy="452.9" rx="18.2" ry="28.9" transform="rotate(18 648.1 452.9)" fill="none" stroke="#000" stroke-width="2.83" stroke-dasharray="6 3"/>
<ellipse cx="648.3" cy="452.4" rx="14.4" ry="22.8" transform="rotate(18 648.3 452.4)" fill="none" stroke="#000" stroke-width="1.65" />
<ellipse cx="649.3" cy="451.4" rx="12.0" ry="19.8" transform="rotate(18 649.3 451.4)" fill="#fff" stroke="#000" stroke-width="2.83" />
<ellipse cx="649.3" cy="451.4" rx="8.6" ry="15.2" transform="rotate(18 649.3 451.4)" fill="none" stroke="#000" stroke-width="1.89" />
<path d="M723.6,376.5 L722.8,371.6 L716.2,370.8 L691.4,384.8 L678.1,398.1 L674.8,403.0 L674.8,414.6 L666.5,432.8 L653.3,459.3 L639.9,503.1 L639.1,546.1 L648.2,552.7 L648.5,549.4 L648.5,542.8 L649.5,503.1 L659.9,462.6 L673.2,436.1 L681.4,419.6 L683.1,408.0 L684.7,401.4 L696.3,391.4 L719.5,378.2 L723.6,376.5 Z" fill="#111" stroke="#000" stroke-width="1.42" />
<ellipse cx="722.5" cy="375.4" rx="1.11" ry="1.45" fill="#fff"/>
<ellipse cx="721.8" cy="376.7" rx="1.49" ry="1.93" fill="#fff"/>
<ellipse cx="719.0" cy="374.6" rx="1.06" ry="1.37" fill="#fff"/>
<ellipse cx="718.4" cy="376.4" rx="0.96" ry="1.25" fill="#fff"/>
<ellipse cx="714.8" cy="373.7" rx="0.95" ry="1.23" fill="#fff"/>
<ellipse cx="713.9" cy="378.9" rx="1.43" ry="1.85" fill="#fff"/>
<ellipse cx="710.2" cy="377.7" rx="1.14" ry="1.48" fill="#fff"/>
<ellipse cx="709.8" cy="381.3" rx="1.36" ry="1.76" fill="#fff"/>
<ellipse cx="706.1" cy="378.4" rx="1.26" ry="1.64" fill="#fff"/>
<ellipse cx="705.6" cy="384.2" rx="1.34" ry="1.75" fill="#fff"/>
<ellipse cx="701.7" cy="382.4" rx="1.13" ry="1.48" fill="#fff"/>
<ellipse cx="701.6" cy="384.9" rx="1.35" ry="1.75" fill="#fff"/>
<ellipse cx="697.4" cy="383.9" rx="1.36" ry="1.76" fill="#fff"/>
<ellipse cx="697.5" cy="389.0" rx="1.08" ry="1.40" fill="#fff"/>
<ellipse cx="693.1" cy="386.6" rx="1.46" ry="1.90" fill="#fff"/>
<ellipse cx="693.7" cy="391.2" rx="0.92" ry="1.20" fill="#fff"/>
<ellipse cx="689.2" cy="389.2" rx="0.91" ry="1.18" fill="#fff"/>
<ellipse cx="690.1" cy="394.6" rx="1.36" ry="1.77" fill="#fff"/>
<ellipse cx="685.6" cy="392.7" rx="1.38" ry="1.79" fill="#fff"/>
<ellipse cx="686.7" cy="397.9" rx="1.26" ry="1.64" fill="#fff"/>
<ellipse cx="682.4" cy="396.8" rx="1.18" ry="1.54" fill="#fff"/>
<ellipse cx="683.3" cy="399.7" rx="0.81" ry="1.06" fill="#fff"/>
<ellipse cx="680.2" cy="402.0" rx="1.25" ry="1.63" fill="#fff"/>
<ellipse cx="681.7" cy="404.7" rx="1.45" ry="1.88" fill="#fff"/>
<ellipse cx="677.3" cy="405.1" rx="1.41" ry="1.83" fill="#fff"/>
<ellipse cx="680.9" cy="409.8" rx="0.95" ry="1.24" fill="#fff"/>
<ellipse cx="676.5" cy="409.6" rx="1.01" ry="1.31" fill="#fff"/>
<ellipse cx="679.3" cy="413.2" rx="1.21" ry="1.57" fill="#fff"/>
<ellipse cx="676.3" cy="414.6" rx="1.09" ry="1.42" fill="#fff"/>
<ellipse cx="678.5" cy="417.6" rx="1.43" ry="1.86" fill="#fff"/>
<ellipse cx="674.9" cy="419.5" rx="1.12" ry="1.46" fill="#fff"/>
<ellipse cx="677.3" cy="422.8" rx="1.43" ry="1.86" fill="#fff"/>
<ellipse cx="672.9" cy="424.1" rx="1.44" ry="1.87" fill="#fff"/>
<ellipse cx="675.1" cy="426.9" rx="1.17" ry="1.52" fill="#fff"/>
<ellipse cx="670.9" cy="428.8" rx="0.82" ry="1.06" fill="#fff"/>
<ellipse cx="673.0" cy="431.1" rx="0.93" ry="1.21" fill="#fff"/>
<ellipse cx="668.1" cy="432.6" rx="1.36" ry="1.76" fill="#fff"/>
<ellipse cx="670.6" cy="435.0" rx="1.13" ry="1.47" fill="#fff"/>
<ellipse cx="666.9" cy="438.0" rx="1.19" ry="1.55" fill="#fff"/>
<ellipse cx="668.6" cy="439.5" rx="1.16" ry="1.51" fill="#fff"/>
<ellipse cx="664.4" cy="442.2" rx="1.35" ry="1.75" fill="#fff"/>
<ellipse cx="666.2" cy="443.5" rx="1.19" ry="1.55" fill="#fff"/>
<ellipse cx="661.8" cy="446.3" rx="1.00" ry="1.29" fill="#fff"/>
<ellipse cx="665.0" cy="448.5" rx="1.16" ry="1.50" fill="#fff"/>
<ellipse cx="660.0" cy="451.1" rx="1.33" ry="1.73" fill="#fff"/>
<ellipse cx="663.2" cy="452.8" rx="1.11" ry="1.44" fill="#fff"/>
<ellipse cx="657.9" cy="455.5" rx="1.15" ry="1.50" fill="#fff"/>
<ellipse cx="660.4" cy="456.7" rx="1.28" ry="1.67" fill="#fff"/>
<ellipse cx="655.4" cy="459.9" rx="1.17" ry="1.52" fill="#fff"/>
<ellipse cx="658.2" cy="460.9" rx="1.45" ry="1.89" fill="#fff"/>
<ellipse cx="654.4" cy="464.7" rx="1.41" ry="1.83" fill="#fff"/>
<ellipse cx="657.6" cy="465.7" rx="0.98" ry="1.28" fill="#fff"/>
<ellipse cx="652.7" cy="469.4" rx="1.46" ry="1.89" fill="#fff"/>
<ellipse cx="656.3" cy="470.2" rx="0.90" ry="1.17" fill="#fff"/>
<ellipse cx="650.5" cy="474.1" rx="1.11" ry="1.44" fill="#fff"/>
<ellipse cx="653.6" cy="474.5" rx="0.97" ry="1.26" fill="#fff"/>
<ellipse cx="649.0" cy="478.9" rx="1.27" ry="1.65" fill="#fff"/>
<ellipse cx="653.7" cy="479.2" rx="1.42" ry="1.85" fill="#fff"/>
<ellipse cx="647.7" cy="483.7" rx="1.30" ry="1.69" fill="#fff"/>
<ellipse cx="652.2" cy="483.8" rx="0.90" ry="1.17" fill="#fff"/>
<ellipse cx="647.9" cy="488.5" rx="1.47" ry="1.91" fill="#fff"/>
<ellipse cx="650.0" cy="488.4" rx="1.46" ry="1.90" fill="#fff"/>
<ellipse cx="645.4" cy="493.3" rx="1.14" ry="1.48" fill="#fff"/>
<ellipse cx="650.5" cy="492.8" rx="1.38" ry="1.79" fill="#fff"/>
<ellipse cx="643.5" cy="498.2" rx="1.10" ry="1.43" fill="#fff"/>
<ellipse cx="648.2" cy="497.5" rx="1.04" ry="1.35" fill="#fff"/>
<ellipse cx="642.2" cy="503.0" rx="1.02" ry="1.33" fill="#fff"/>
<ellipse cx="647.5" cy="502.0" rx="0.82" ry="1.06" fill="#fff"/>
<ellipse cx="642.8" cy="507.7" rx="1.11" ry="1.44" fill="#fff"/>
<ellipse cx="645.4" cy="507.1" rx="1.03" ry="1.34" fill="#fff"/>
<ellipse cx="642.9" cy="512.7" rx="1.16" ry="1.51" fill="#fff"/>
<ellipse cx="645.4" cy="511.8" rx="1.48" ry="1.93" fill="#fff"/>
<ellipse cx="643.2" cy="517.5" rx="1.48" ry="1.92" fill="#fff"/>
<ellipse cx="645.4" cy="516.6" rx="0.99" ry="1.28" fill="#fff"/>
<ellipse cx="641.3" cy="523.2" rx="1.34" ry="1.75" fill="#fff"/>
<ellipse cx="645.7" cy="521.2" rx="0.89" ry="1.16" fill="#fff"/>
<ellipse cx="642.1" cy="527.7" rx="1.43" ry="1.86" fill="#fff"/>
<ellipse cx="646.9" cy="525.4" rx="0.98" ry="1.28" fill="#fff"/>
<ellipse cx="641.4" cy="533.1" rx="1.44" ry="1.87" fill="#fff"/>
<ellipse cx="646.2" cy="530.4" rx="1.29" ry="1.67" fill="#fff"/>
<ellipse cx="641.2" cy="538.2" rx="0.84" ry="1.10" fill="#fff"/>
<ellipse cx="646.3" cy="534.9" rx="1.10" ry="1.43" fill="#fff"/>
<ellipse cx="641.0" cy="543.2" rx="1.45" ry="1.89" fill="#fff"/>
<ellipse cx="646.1" cy="539.7" rx="1.36" ry="1.77" fill="#fff"/>
<ellipse cx="643.3" cy="547.1" rx="1.40" ry="1.81" fill="#fff"/>
<ellipse cx="645.9" cy="544.8" rx="1.40" ry="1.82" fill="#fff"/>
<ellipse cx="646.8" cy="550.0" rx="1.04" ry="1.35" fill="#fff"/>
<ellipse cx="647.8" cy="548.3" rx="1.44" ry="1.88" fill="#fff"/>
<path d="M683.1,408.0 L684.7,401.4 L696.3,391.4 L719.5,378.2 L729.4,375.7 L742.7,381.5 L746.0,386.5 L746.8,395.6 L769.1,426.2 L775.7,421.2 L780.7,422.9 L782.4,429.5 L781.5,475.8 L745.8,546.1 L707.8,569.3 L702.8,579.2 L696.2,581.2 L648.2,552.7 L648.5,503.1 L673.2,436.1 L681.4,419.6 Z" fill="#fff" stroke="#000" stroke-width="1.65" />
<ellipse cx="739.3" cy="391.4" rx="4.3" ry="5.6" transform="rotate(18 739.3 391.4)" fill="none" stroke="#000" stroke-width="1.89" />
<ellipse cx="739.3" cy="391.4" rx="2.3" ry="3.3" transform="rotate(18 739.3 391.4)" fill="none" stroke="#000" stroke-width="1.89" />
<path d="M698.0,398.4 L704.6,393.1" fill="none" stroke="#000" stroke-width="1.18" />
<path d="M707.9,390.6 L721.1,380.2" fill="none" stroke="#000" stroke-width="1.18" />
<path d="M742.7,398.9 L747.6,404.7 L749.3,409.6" fill="none" stroke="#000" stroke-width="1.53" />
<path d="M740.2,401.4 L746.0,404.7" fill="none" stroke="#000" stroke-width="1.42" />
<path d="M717.0,447.4 L699.5,428.4 L698.5,424.6 L698.3,420.3 L698.8,415.9 L700.2,411.4 L702.3,407.2 L705.0,403.3 L708.2,400.0 L711.8,397.3 L715.6,395.5 L719.5,394.6 L723.2,394.6 L726.6,395.6 L729.5,397.5 L731.9,400.2 L744.9,413.2" fill="#fff" stroke="#000" stroke-width="1.65" />
<path d="M721.1,389.0 L729.4,388.5 L742.7,401.4 L748.0,411.6 L741.8,407.2 L732.7,401.4 Z" fill="#000" stroke="#000" stroke-width="1.18" />
<path d="M703.3,437.4 L707.1,434.5 L716.2,446.0 L726.9,451.0 L712.9,450.2 Z" fill="#000" stroke="#000" stroke-width="1.18" />
<ellipse cx="729.4" cy="428.7" rx="16.5" ry="22.5" transform="rotate(30 729.4 428.7)" fill="#fff" stroke="#000" stroke-width="1.77" />
<path d="M685.6,416.3 C688.4,414.1 695.2,407.2 699.6,405.5 C704.1,403.8 705.5,406.0 707.9,408.0 C710.3,410.0 711.6,412.4 711.6,415.4 C711.6,418.5 710.3,421.2 707.9,423.2 C705.5,425.2 701.3,424.9 699.6,425.4" fill="none" stroke="#000" stroke-width="1.65" />
<path d="M685.6,416.3 L693.4,423.7" fill="none" stroke="#000" stroke-width="1.65" />
<path d="M691.4,423.7 C691.5,424.4 691.1,426.9 692.2,427.8 C693.3,428.8 697.0,429.2 698.0,429.5" fill="none" stroke="#000" stroke-width="1.65" />
<ellipse cx="702.9" cy="415.4" rx="6.6" ry="8.6" transform="rotate(18 702.9 415.4)" fill="none" stroke="#000" stroke-width="1.77" />
<ellipse cx="702.9" cy="415.8" rx="3.0" ry="4.3" transform="rotate(18 702.9 415.8)" fill="none" stroke="#000" stroke-width="2.12" />
<path d="M695.0,401.0 L699.6,404.7" fill="none" stroke="#000" stroke-width="1.18" />
<path d="M699.6,425.4 L701.3,437.8 L703.3,437.4" fill="none" stroke="#000" stroke-width="1.65" />
<path d="M693.4,423.7 L689.7,432.8 L683.1,441.1 L684.7,446.0 L694.7,459.3 L693.8,461.8 L683.1,479.1" fill="none" stroke="#000" stroke-width="1.65" />
<ellipse cx="693.4" cy="440.6" rx="2.8" ry="4.0" transform="rotate(18 693.4 440.6)" fill="none" stroke="#000" stroke-width="1.77" />
<path d="M689.7,432.8 L674.8,459.3 L654.8,483.2 L653.2,547.8 L658.1,559.3 L696.2,580.9 L702.8,579.2 L707.8,569.3 L745.8,546.1" fill="none" stroke="#000" stroke-width="1.65" />
<path d="M749.3,426.2 L762.5,434.5 L769.1,426.2" fill="none" stroke="#000" stroke-width="1.65" />
<path d="M747.6,409.6 L749.3,426.2" fill="none" stroke="#000" stroke-width="1.65" />
<path d="M749.3,426.2 C750.9,428.1 756.4,433.9 759.2,437.8 C762.0,441.6 764.3,444.7 765.8,449.3 C767.3,454.0 767.9,461.5 768.3,465.9 C768.7,470.3 768.3,474.2 768.3,475.8" fill="none" stroke="#000" stroke-width="1.65" />
<path d="M762.5,434.5 L772.4,451.8 L771.6,465.9" fill="none" stroke="#000" stroke-width="1.65" />
<ellipse cx="774.9" cy="428.7" rx="3.0" ry="4.3" transform="rotate(18 774.9 428.7)" fill="none" stroke="#000" stroke-width="1.77" />
<ellipse cx="777.4" cy="458.8" rx="2.2" ry="3.3" transform="rotate(18 777.4 458.8)" fill="none" stroke="#000" stroke-width="2.83" />
<path d="M769.1,452.7 L782.4,450.2" fill="none" stroke="#000" stroke-width="1.18" />
<path d="M771.6,465.9 L782.4,462.6" fill="none" stroke="#000" stroke-width="1.18" />
<path d="M706.3,484.9 C707.9,481.8 711.8,470.4 716.2,465.9 C720.6,461.3 727.2,458.7 732.7,457.6 C738.2,456.5 744.3,457.6 749.3,459.3 C754.2,460.9 759.2,463.3 762.5,467.5 C765.8,471.8 768.0,482.0 769.1,484.9" fill="none" stroke="#000" stroke-width="1.65" />
<path d="M722.8,484.9 C725.0,482.9 731.6,475.1 736.0,472.5 C740.5,469.9 745.4,468.7 749.3,469.2 C753.1,469.8 757.5,474.7 759.2,475.8" fill="none" stroke="#000" stroke-width="1.65" />
<ellipse cx="663.9" cy="491.5" rx="2.6" ry="3.6" transform="rotate(18 663.9 491.5)" fill="none" stroke="#000" stroke-width="1.77" />
<ellipse cx="662.3" cy="551.1" rx="2.6" ry="4.0" transform="rotate(18 662.3 551.1)" fill="none" stroke="#000" stroke-width="1.77" />
<ellipse cx="699.5" cy="573.4" rx="2.5" ry="3.6" transform="rotate(18 699.5 573.4)" fill="none" stroke="#000" stroke-width="1.77" />
<path d="M658.1,498.1 C660.9,498.5 671.4,498.4 674.7,500.6 C678.0,502.8 677.7,507.2 678.0,511.4 C678.3,515.5 676.6,523.1 676.3,525.4" fill="none" stroke="#000" stroke-width="1.65" />
<path d="M656.5,518.0 L668.9,511.4 L670.5,524.6 L658.1,529.9 Z" fill="none" stroke="#000" stroke-width="1.65" />
<ellipse cx="661.4" cy="522.9" rx="2.0" ry="2.6" transform="rotate(0 661.4 522.9)" fill="none" stroke="#000" stroke-width="2.83" />
<path d="M656.5,546.1 L670.5,531.6" fill="none" stroke="#000" stroke-width="3.07" />
<path d="M668.9,503.1 L669.7,526.3" fill="none" stroke="#000" stroke-width="1.42" />
<path d="M678.0,527.9 C678.3,529.8 678.5,536.2 679.6,539.5 C680.7,542.8 681.8,545.3 684.6,547.8 C687.4,550.2 692.0,553.3 696.2,554.4 C700.3,555.5 705.0,555.2 709.4,554.4 C713.8,553.6 718.2,551.6 722.7,549.4 C727.1,547.2 733.7,542.5 735.9,541.1" fill="none" stroke="#000" stroke-width="1.65" />
<path d="M674.7,547.8 C676.1,549.1 679.6,554.0 682.9,556.0 C686.3,558.1 692.6,559.5 694.5,560.2" fill="none" stroke="#000" stroke-width="1.65" />
<path d="M692.9,562.7 L692.0,575.9" fill="none" stroke="#000" stroke-width="3.07" />
<path d="M707.8,556.0 L706.1,569.3" fill="none" stroke="#000" stroke-width="1.65" />
<path d="M712.7,556.0 L735.9,543.6" fill="none" stroke="#000" stroke-width="1.18" />
<path d="M709.4,473.3 C707.8,476.9 701.4,488.2 699.5,494.8 C697.6,501.4 697.3,507.8 697.8,513.0 C698.4,518.3 700.3,522.9 702.8,526.3 C705.3,529.6 708.9,531.7 712.7,532.9 C716.6,534.0 723.8,533.2 726.0,533.2" fill="none" stroke="#000" stroke-width="1.65" />
<path d="M735.9,473.3 C732.0,476.9 717.1,488.2 712.7,494.8 C708.3,501.4 709.1,508.1 709.4,513.0 C709.7,518.0 712.2,522.1 714.4,524.6 C716.6,527.1 721.3,527.6 722.7,528.2" fill="none" stroke="#000" stroke-width="1.89" />
<path d="M739.2,476.6 C735.9,479.9 723.2,490.4 719.3,496.5 C715.5,502.5 716.0,508.9 716.0,513.0 C716.0,517.2 718.8,519.9 719.3,521.3" fill="none" stroke="#000" stroke-width="1.42" />
<path d="M716.0,509.7 L735.9,479.9" fill="none" stroke="#000" stroke-width="1.42" />
<path d="M719.3,519.6 L729.3,503.1" fill="none" stroke="#000" stroke-width="1.42" />
<path d="M729.3,486.5 L730.9,508.1" fill="none" stroke="#000" stroke-width="1.42" />
<path d="M648.2,552.7 L692.9,579.2 L697.8,582.5" fill="none" stroke="#000" stroke-width="1.53" />
<path d="M740.3,543.9 L737.3,542.5 L734.6,540.3 L732.3,537.5 L730.5,534.1 L729.2,530.1 L728.3,525.7 L728.1,521.0 L728.4,516.0 L729.2,511.0 L730.5,506.0 L732.4,501.2 L734.7,496.6 L737.3,492.5 L740.3,488.8 L743.6,485.7 L747.0,483.3 L750.5,481.6 L754.0,480.6 L757.4,480.5 L760.7,481.1 L765.7,483.1 L768.7,484.5 L771.4,486.7 L773.7,489.5 L775.5,492.9 L776.8,496.9 L777.7,501.3 L777.9,506.0 L777.6,511.0 L776.8,516.0 L775.5,521.0 L773.6,525.8 L771.3,530.4 L768.7,534.5 L765.7,538.2 L762.4,541.3 L759.0,543.7 L755.5,545.4 L752.0,546.4 L748.6,546.5 L745.3,545.9 Z" fill="#111" stroke="#000" stroke-width="1.42" />
<ellipse cx="755.5" cy="514.5" rx="21.0" ry="33.0" transform="rotate(18 755.5 514.5)" fill="#111" stroke="#000" stroke-width="1.42" />
<ellipse cx="755.5" cy="514.5" rx="21.0" ry="33.0" transform="rotate(18 755.5 514.5)" fill="#111" stroke="#000" stroke-width="1.42" />
<circle cx="742.3" cy="531.2" r="0.7" fill="#fff"/>
<circle cx="743.9" cy="502.8" r="0.7" fill="#fff"/>
<circle cx="752.8" cy="537.2" r="0.7" fill="#fff"/>
<circle cx="757.7" cy="535.8" r="0.7" fill="#fff"/>
<circle cx="739.5" cy="528.3" r="0.7" fill="#fff"/>
<circle cx="762.6" cy="490.8" r="0.7" fill="#fff"/>
<circle cx="742.7" cy="506.0" r="0.7" fill="#fff"/>
<circle cx="740.8" cy="523.3" r="0.7" fill="#fff"/>
<circle cx="743.7" cy="531.6" r="0.7" fill="#fff"/>
<circle cx="760.9" cy="487.9" r="0.7" fill="#fff"/>
<circle cx="745.4" cy="539.0" r="0.7" fill="#fff"/>
<circle cx="770.7" cy="504.1" r="0.7" fill="#fff"/>
<circle cx="767.6" cy="491.9" r="0.7" fill="#fff"/>
<circle cx="738.7" cy="504.3" r="0.7" fill="#fff"/>
<circle cx="737.2" cy="519.2" r="0.7" fill="#fff"/>
<circle cx="756.8" cy="484.3" r="0.7" fill="#fff"/>
<circle cx="735.2" cy="527.2" r="0.7" fill="#fff"/>
<circle cx="758.5" cy="487.2" r="0.7" fill="#fff"/>
<circle cx="738.5" cy="517.5" r="0.7" fill="#fff"/>
<circle cx="757.3" cy="535.3" r="0.7" fill="#fff"/>
<circle cx="756.1" cy="541.8" r="0.7" fill="#fff"/>
<circle cx="742.7" cy="532.4" r="0.7" fill="#fff"/>
<circle cx="754.6" cy="543.3" r="0.7" fill="#fff"/>
<circle cx="772.0" cy="494.1" r="0.7" fill="#fff"/>
<circle cx="741.0" cy="530.8" r="0.7" fill="#fff"/>
<circle cx="739.2" cy="531.2" r="0.7" fill="#fff"/>
<circle cx="748.1" cy="539.8" r="0.7" fill="#fff"/>
<circle cx="737.7" cy="537.8" r="0.7" fill="#fff"/>
<circle cx="774.1" cy="506.9" r="0.7" fill="#fff"/>
<circle cx="738.9" cy="539.7" r="0.7" fill="#fff"/>
<circle cx="739.3" cy="528.8" r="0.7" fill="#fff"/>
<circle cx="762.2" cy="534.2" r="0.7" fill="#fff"/>
<circle cx="739.6" cy="508.1" r="0.7" fill="#fff"/>
<circle cx="744.4" cy="538.8" r="0.7" fill="#fff"/>
<circle cx="761.6" cy="533.5" r="0.7" fill="#fff"/>
<circle cx="754.3" cy="539.1" r="0.7" fill="#fff"/>
<circle cx="758.2" cy="533.7" r="0.7" fill="#fff"/>
<circle cx="740.2" cy="528.6" r="0.7" fill="#fff"/>
<circle cx="747.0" cy="495.1" r="0.7" fill="#fff"/>
<circle cx="762.8" cy="487.0" r="0.7" fill="#fff"/>
<circle cx="759.8" cy="484.7" r="0.7" fill="#fff"/>
<circle cx="738.5" cy="519.3" r="0.7" fill="#fff"/>
<circle cx="771.3" cy="509.4" r="0.7" fill="#fff"/>
<circle cx="760.3" cy="487.0" r="0.7" fill="#fff"/>
<circle cx="759.0" cy="541.2" r="0.7" fill="#fff"/>
<circle cx="772.8" cy="496.6" r="0.7" fill="#fff"/>
<circle cx="761.5" cy="485.3" r="0.7" fill="#fff"/>
<circle cx="749.5" cy="540.8" r="0.7" fill="#fff"/>
<circle cx="739.3" cy="503.0" r="0.7" fill="#fff"/>
<circle cx="768.3" cy="487.5" r="0.7" fill="#fff"/>
<circle cx="745.7" cy="492.6" r="0.7" fill="#fff"/>
<circle cx="756.2" cy="487.2" r="0.7" fill="#fff"/>
<circle cx="744.7" cy="533.0" r="0.7" fill="#fff"/>
<circle cx="750.4" cy="539.2" r="0.7" fill="#fff"/>
<circle cx="752.4" cy="543.7" r="0.7" fill="#fff"/>
<circle cx="744.4" cy="497.2" r="0.7" fill="#fff"/>
<circle cx="750.4" cy="490.4" r="0.7" fill="#fff"/>
<circle cx="743.2" cy="507.8" r="0.7" fill="#fff"/>
<circle cx="767.4" cy="487.8" r="0.7" fill="#fff"/>
<circle cx="740.9" cy="504.3" r="0.7" fill="#fff"/>
<circle cx="754.1" cy="494.1" r="0.7" fill="#fff"/>
<circle cx="760.6" cy="490.9" r="0.7" fill="#fff"/>
<circle cx="755.7" cy="537.4" r="0.7" fill="#fff"/>
<circle cx="759.9" cy="491.3" r="0.7" fill="#fff"/>
<circle cx="762.5" cy="483.7" r="0.7" fill="#fff"/>
<circle cx="741.2" cy="506.0" r="0.7" fill="#fff"/>
<circle cx="738.7" cy="507.1" r="0.7" fill="#fff"/>
<circle cx="764.2" cy="487.8" r="0.7" fill="#fff"/>
<circle cx="752.8" cy="494.7" r="0.7" fill="#fff"/>
<circle cx="749.5" cy="538.0" r="0.7" fill="#fff"/>
<circle cx="761.3" cy="490.4" r="0.7" fill="#fff"/>
<circle cx="747.5" cy="500.3" r="0.7" fill="#fff"/>
<circle cx="756.9" cy="536.9" r="0.7" fill="#fff"/>
<circle cx="755.0" cy="487.7" r="0.7" fill="#fff"/>
<circle cx="755.4" cy="491.3" r="0.7" fill="#fff"/>
<circle cx="742.1" cy="502.9" r="0.7" fill="#fff"/>
<circle cx="741.6" cy="510.0" r="0.7" fill="#fff"/>
<circle cx="770.2" cy="499.6" r="0.7" fill="#fff"/>
<circle cx="776.8" cy="506.7" r="0.7" fill="#fff"/>
<circle cx="761.0" cy="536.0" r="0.7" fill="#fff"/>
<circle cx="770.2" cy="487.2" r="0.7" fill="#fff"/>
<circle cx="740.0" cy="511.8" r="0.7" fill="#fff"/>
<circle cx="741.8" cy="542.3" r="0.7" fill="#fff"/>
<circle cx="743.3" cy="538.9" r="0.7" fill="#fff"/>
<circle cx="749.3" cy="540.8" r="0.7" fill="#fff"/>
<circle cx="771.1" cy="505.9" r="0.7" fill="#fff"/>
<circle cx="768.0" cy="491.3" r="0.7" fill="#fff"/>
<circle cx="773.1" cy="495.6" r="0.7" fill="#fff"/>
<circle cx="740.2" cy="540.2" r="0.7" fill="#fff"/>
<circle cx="742.9" cy="508.1" r="0.7" fill="#fff"/>
<circle cx="762.3" cy="535.2" r="0.7" fill="#fff"/>
<circle cx="739.9" cy="511.6" r="0.7" fill="#fff"/>
<circle cx="749.8" cy="539.0" r="0.7" fill="#fff"/>
<circle cx="735.9" cy="530.8" r="0.7" fill="#fff"/>
<circle cx="763.1" cy="537.1" r="0.7" fill="#fff"/>
<circle cx="767.3" cy="495.8" r="0.7" fill="#fff"/>
<circle cx="774.6" cy="500.2" r="0.7" fill="#fff"/>
<circle cx="771.0" cy="499.8" r="0.7" fill="#fff"/>
<circle cx="738.0" cy="521.7" r="0.7" fill="#fff"/>
<circle cx="774.3" cy="510.4" r="0.7" fill="#fff"/>
<circle cx="737.8" cy="523.2" r="0.7" fill="#fff"/>
<circle cx="742.4" cy="530.0" r="0.7" fill="#fff"/>
<circle cx="752.8" cy="543.7" r="0.7" fill="#fff"/>
<circle cx="736.6" cy="535.1" r="0.7" fill="#fff"/>
<circle cx="742.4" cy="533.6" r="0.7" fill="#fff"/>
<circle cx="743.2" cy="504.8" r="0.7" fill="#fff"/>
<circle cx="734.1" cy="523.1" r="0.7" fill="#fff"/>
<circle cx="773.6" cy="494.6" r="0.7" fill="#fff"/>
<circle cx="750.5" cy="488.1" r="0.7" fill="#fff"/>
<circle cx="773.8" cy="502.8" r="0.7" fill="#fff"/>
<circle cx="758.9" cy="492.9" r="0.7" fill="#fff"/>
<circle cx="760.7" cy="488.9" r="0.7" fill="#fff"/>
<circle cx="763.0" cy="487.2" r="0.7" fill="#fff"/>
<circle cx="742.0" cy="529.1" r="0.7" fill="#fff"/>
<circle cx="770.7" cy="503.2" r="0.7" fill="#fff"/>
<circle cx="740.4" cy="508.8" r="0.7" fill="#fff"/>
<circle cx="737.2" cy="532.4" r="0.7" fill="#fff"/>
<circle cx="772.1" cy="508.2" r="0.7" fill="#fff"/>
<circle cx="753.7" cy="492.0" r="0.7" fill="#fff"/>
<circle cx="745.2" cy="498.8" r="0.7" fill="#fff"/>
<circle cx="748.2" cy="536.8" r="0.7" fill="#fff"/>
<circle cx="742.1" cy="542.0" r="0.7" fill="#fff"/>
<circle cx="742.3" cy="506.2" r="0.7" fill="#fff"/>
<circle cx="775.8" cy="496.1" r="0.7" fill="#fff"/>
<circle cx="740.9" cy="511.9" r="0.7" fill="#fff"/>
<circle cx="746.7" cy="535.3" r="0.7" fill="#fff"/>
<circle cx="740.3" cy="524.1" r="0.7" fill="#fff"/>
<circle cx="743.0" cy="534.3" r="0.7" fill="#fff"/>
<circle cx="744.4" cy="494.2" r="0.7" fill="#fff"/>
<circle cx="762.1" cy="489.4" r="0.7" fill="#fff"/>
<circle cx="737.4" cy="516.4" r="0.7" fill="#fff"/>
<circle cx="738.3" cy="521.0" r="0.7" fill="#fff"/>
<circle cx="756.8" cy="537.0" r="0.7" fill="#fff"/>
<circle cx="771.2" cy="507.6" r="0.7" fill="#fff"/>
<circle cx="740.4" cy="503.9" r="0.7" fill="#fff"/>
<circle cx="769.0" cy="496.8" r="0.7" fill="#fff"/>
<circle cx="741.4" cy="531.8" r="0.7" fill="#fff"/>
<circle cx="737.7" cy="518.2" r="0.7" fill="#fff"/>
<circle cx="776.1" cy="503.4" r="0.7" fill="#fff"/>
<circle cx="768.3" cy="499.0" r="0.7" fill="#fff"/>
<circle cx="760.0" cy="539.2" r="0.7" fill="#fff"/>
<circle cx="772.0" cy="498.0" r="0.7" fill="#fff"/>
<circle cx="748.8" cy="498.8" r="0.7" fill="#fff"/>
<circle cx="734.3" cy="520.2" r="0.7" fill="#fff"/>
<circle cx="770.1" cy="488.7" r="0.7" fill="#fff"/>
<circle cx="772.0" cy="507.7" r="0.7" fill="#fff"/>
<circle cx="752.8" cy="537.1" r="0.7" fill="#fff"/>
<circle cx="741.4" cy="501.2" r="0.7" fill="#fff"/>
<circle cx="775.0" cy="502.1" r="0.7" fill="#fff"/>
<circle cx="752.4" cy="488.3" r="0.7" fill="#fff"/>
<circle cx="738.5" cy="510.4" r="0.7" fill="#fff"/>
<circle cx="759.4" cy="540.4" r="0.7" fill="#fff"/>
<circle cx="740.0" cy="540.3" r="0.7" fill="#fff"/>
<circle cx="752.8" cy="492.5" r="0.7" fill="#fff"/>
<circle cx="751.1" cy="538.2" r="0.7" fill="#fff"/>
<circle cx="751.4" cy="489.6" r="0.7" fill="#fff"/>
<circle cx="752.7" cy="536.3" r="0.7" fill="#fff"/>
<circle cx="742.0" cy="501.4" r="0.7" fill="#fff"/>
<circle cx="739.2" cy="519.3" r="0.7" fill="#fff"/>
<circle cx="749.8" cy="497.7" r="0.7" fill="#fff"/>
<circle cx="738.9" cy="530.3" r="0.7" fill="#fff"/>
<circle cx="774.7" cy="504.8" r="0.7" fill="#fff"/>
<circle cx="771.5" cy="496.8" r="0.7" fill="#fff"/>
<circle cx="743.3" cy="534.5" r="0.7" fill="#fff"/>
<circle cx="775.1" cy="504.8" r="0.7" fill="#fff"/>
<circle cx="741.5" cy="527.1" r="0.7" fill="#fff"/>
<circle cx="739.8" cy="504.4" r="0.7" fill="#fff"/>
<circle cx="739.3" cy="515.5" r="0.7" fill="#fff"/>
<circle cx="754.5" cy="485.7" r="0.7" fill="#fff"/>
<circle cx="744.9" cy="533.2" r="0.7" fill="#fff"/>
<circle cx="738.1" cy="526.0" r="0.7" fill="#fff"/>
<circle cx="756.0" cy="492.0" r="0.7" fill="#fff"/>
<circle cx="767.3" cy="487.9" r="0.7" fill="#fff"/>
<circle cx="742.8" cy="505.4" r="0.7" fill="#fff"/>
<circle cx="772.5" cy="507.3" r="0.7" fill="#fff"/>
<circle cx="766.7" cy="493.7" r="0.7" fill="#fff"/>
<circle cx="741.7" cy="539.8" r="0.7" fill="#fff"/>
<circle cx="736.0" cy="534.1" r="0.7" fill="#fff"/>
<circle cx="742.4" cy="506.5" r="0.7" fill="#fff"/>
<circle cx="743.2" cy="536.7" r="0.7" fill="#fff"/>
<circle cx="754.2" cy="485.5" r="0.7" fill="#fff"/>
<circle cx="749.2" cy="539.4" r="0.7" fill="#fff"/>
<circle cx="741.4" cy="542.3" r="0.7" fill="#fff"/>
<circle cx="750.4" cy="536.1" r="0.7" fill="#fff"/>
<circle cx="757.0" cy="538.0" r="0.7" fill="#fff"/>
<circle cx="774.7" cy="495.7" r="0.7" fill="#fff"/>
<circle cx="761.8" cy="483.4" r="0.7" fill="#fff"/>
<circle cx="772.1" cy="502.7" r="0.7" fill="#fff"/>
<circle cx="744.0" cy="543.6" r="0.7" fill="#fff"/>
<circle cx="760.9" cy="493.1" r="0.7" fill="#fff"/>
<circle cx="754.4" cy="490.9" r="0.7" fill="#fff"/>
<circle cx="738.4" cy="521.3" r="0.7" fill="#fff"/>
<circle cx="748.6" cy="535.2" r="0.7" fill="#fff"/>
<circle cx="740.4" cy="531.7" r="0.7" fill="#fff"/>
<circle cx="771.1" cy="506.2" r="0.7" fill="#fff"/>
<circle cx="771.7" cy="506.9" r="0.7" fill="#fff"/>
<circle cx="735.1" cy="525.2" r="0.7" fill="#fff"/>
<circle cx="767.8" cy="492.1" r="0.7" fill="#fff"/>
<circle cx="758.1" cy="538.2" r="0.7" fill="#fff"/>
<circle cx="734.3" cy="523.1" r="0.7" fill="#fff"/>
<circle cx="745.6" cy="537.8" r="0.7" fill="#fff"/>
<circle cx="769.2" cy="500.9" r="0.7" fill="#fff"/>
<circle cx="735.4" cy="517.1" r="0.7" fill="#fff"/>
<circle cx="762.4" cy="493.4" r="0.7" fill="#fff"/>
<circle cx="758.8" cy="533.7" r="0.7" fill="#fff"/>
<circle cx="771.4" cy="501.8" r="0.7" fill="#fff"/>
<circle cx="763.1" cy="484.6" r="0.7" fill="#fff"/>
<circle cx="739.1" cy="525.2" r="0.7" fill="#fff"/>
<circle cx="774.5" cy="504.7" r="0.7" fill="#fff"/>
<circle cx="739.2" cy="536.1" r="0.7" fill="#fff"/>
<circle cx="739.6" cy="527.6" r="0.7" fill="#fff"/>
<circle cx="763.0" cy="537.3" r="0.7" fill="#fff"/>
<circle cx="773.8" cy="499.4" r="0.7" fill="#fff"/>
<circle cx="770.2" cy="505.3" r="0.7" fill="#fff"/>
<circle cx="742.2" cy="536.5" r="0.7" fill="#fff"/>
<circle cx="776.8" cy="503.4" r="0.7" fill="#fff"/>
<circle cx="739.0" cy="519.6" r="0.7" fill="#fff"/>
<circle cx="738.0" cy="514.2" r="0.7" fill="#fff"/>
<circle cx="771.1" cy="503.1" r="0.7" fill="#fff"/>
<circle cx="767.7" cy="488.2" r="0.7" fill="#fff"/>
<circle cx="769.5" cy="489.2" r="0.7" fill="#fff"/>
<circle cx="749.4" cy="494.8" r="0.7" fill="#fff"/>
<circle cx="738.9" cy="527.8" r="0.7" fill="#fff"/>
<circle cx="763.6" cy="493.5" r="0.7" fill="#fff"/>
<circle cx="743.7" cy="541.3" r="0.7" fill="#fff"/>
<circle cx="743.6" cy="532.2" r="0.7" fill="#fff"/>
<circle cx="759.6" cy="538.0" r="0.7" fill="#fff"/>
<circle cx="734.6" cy="530.2" r="0.7" fill="#fff"/>
<circle cx="774.6" cy="493.3" r="0.7" fill="#fff"/>
<circle cx="742.7" cy="531.1" r="0.7" fill="#fff"/>
<circle cx="753.6" cy="540.3" r="0.7" fill="#fff"/>
<circle cx="758.6" cy="489.0" r="0.7" fill="#fff"/>
<circle cx="742.5" cy="536.0" r="0.7" fill="#fff"/>
<circle cx="749.8" cy="490.9" r="0.7" fill="#fff"/>
<circle cx="763.1" cy="485.1" r="0.7" fill="#fff"/>
<circle cx="754.5" cy="493.4" r="0.7" fill="#fff"/>
<circle cx="768.3" cy="494.5" r="0.7" fill="#fff"/>
<circle cx="746.1" cy="497.9" r="0.7" fill="#fff"/>
<circle cx="760.6" cy="491.4" r="0.7" fill="#fff"/>
<circle cx="742.6" cy="533.6" r="0.7" fill="#fff"/>
<ellipse cx="757.5" cy="515.5" rx="13.5" ry="21.5" transform="rotate(18 757.5 515.5)" fill="#fff" stroke="#000" stroke-width="1.42" />
<ellipse cx="758.5" cy="515.5" rx="10.0" ry="16.0" transform="rotate(18 758.5 515.5)" fill="#fff" stroke="#000" stroke-width="3.07" />
<ellipse cx="759.5" cy="515.0" rx="6.0" ry="9.5" transform="rotate(18 759.5 515.0)" fill="#000" stroke="#000" stroke-width="1.42" />
<path d="M760.0,509.6 L771.6,511.3 L771.6,532.8 L760.0,527.8 Z" fill="#fff" stroke="#000" stroke-width="1.42" />
<path d="M771.6,512.1 L784.8,508.8 L800.5,514.6 L798.9,541.0 L786.5,549.3 L769.9,537.7 Z" fill="#000" stroke="#000" stroke-width="1.42" />
<path d="M772.9,512.1 L798.9,517.9 L798.7,519.9 L772.7,513.9 Z" fill="#fff" stroke="#000" stroke-width="0.59" />
<path d="M772.6,517.4 L798.9,523.2 L798.7,525.2 L772.4,519.2 Z" fill="#fff" stroke="#000" stroke-width="0.59" />
<path d="M772.2,522.7 L798.9,528.5 L798.7,530.4 L772.1,524.5 Z" fill="#fff" stroke="#000" stroke-width="0.59" />
<path d="M771.9,528.0 L798.9,533.8 L798.7,535.7 L771.7,529.8 Z" fill="#fff" stroke="#000" stroke-width="0.59" />
<path d="M771.6,533.3 L798.9,539.1 L798.7,541.0 L771.4,535.1 Z" fill="#fff" stroke="#000" stroke-width="0.59" />
<path d="M771.3,538.6 L798.9,544.3 L798.7,546.3 L771.1,540.4 Z" fill="#fff" stroke="#000" stroke-width="0.59" />
<path d="M808.0,479.8 L829.5,489.7 L826.2,503.0 L804.7,493.1 Z" fill="#fff" stroke="#000" stroke-width="1.53" />
<path d="M809.6,481.1 L806.7,493.9" fill="none" stroke="#000" stroke-width="2.36" />
<path d="M812.3,482.4 L809.3,495.1" fill="none" stroke="#000" stroke-width="2.36" />
<path d="M814.9,483.6 L812.0,496.4" fill="none" stroke="#000" stroke-width="2.36" />
<path d="M817.6,484.9 L814.6,497.6" fill="none" stroke="#000" stroke-width="2.36" />
<path d="M820.2,486.1 L817.2,498.8" fill="none" stroke="#000" stroke-width="2.36" />
<path d="M822.9,487.3 L819.9,500.1" fill="none" stroke="#000" stroke-width="2.36" />
<path d="M825.5,488.6 L822.5,501.3" fill="none" stroke="#000" stroke-width="2.36" />
<path d="M788.1,477.3 L798.1,469.9 L806.3,472.4 L808.0,488.1 L799.7,494.7 L789.8,492.2 Z" fill="#fff" stroke="#000" stroke-width="1.89" />
<path d="M788.1,477.3 L795.6,479.8 L797.2,493.9" fill="none" stroke="#000" stroke-width="1.42" />
<path d="M795.6,479.8 L806.3,472.4" fill="none" stroke="#000" stroke-width="1.42" />
<ellipse cx="801.4" cy="486.4" rx="4.1" ry="6.9" transform="rotate(18 801.4 486.4)" fill="none" stroke="#000" stroke-width="1.42" />
<path d="M806.0,619.0 L799.0,615.6 L792.7,610.7 L787.3,604.4 L782.9,596.8 L779.7,588.0 L777.6,578.4 L776.9,568.2 L777.4,557.6 L779.2,546.8 L782.2,536.2 L786.4,526.0 L791.6,516.4 L797.7,507.7 L804.6,500.1 L812.1,493.8 L820.1,488.9 L828.2,485.6 L836.4,483.9 L844.3,483.9 L852.0,485.6 L862.5,489.8 L869.5,493.2 L875.8,498.1 L881.2,504.4 L885.6,512.0 L888.8,520.8 L890.9,530.4 L891.6,540.6 L891.1,551.2 L889.3,562.0 L886.3,572.6 L882.1,582.8 L876.9,592.4 L870.8,601.1 L863.9,608.7 L856.4,615.0 L848.4,619.9 L840.3,623.2 L832.1,624.9 L824.2,624.9 L816.5,623.2 Z" fill="#fff" stroke="#000" stroke-width="1.77" />
<ellipse cx="839.5" cy="556.5" rx="49.5" ry="70.5" transform="rotate(19 839.5 556.5)" fill="#fff" stroke="#000" stroke-width="1.77" />
<path d="M802.1,617.3 L797.2,614.4 L792.7,610.7 L788.7,606.3 L785.2,601.1 L782.3,595.4 L780.0,589.1 L778.3,582.3 L777.2,575.1 L776.9,567.6 L777.2,560.0 L785.4,557.2 L784.5,564.9 L784.4,572.6 L784.9,580.0 L786.1,587.1 L788.0,593.8 L790.4,600.0 L793.5,605.6 L797.1,610.6 L801.2,614.8 L805.8,618.3 Z" fill="#000" stroke="#000" stroke-width="0.94" />
<line x1="778.9" y1="548.0" x2="787.9" y2="551.6" stroke="#000" stroke-width="1.1"/>
<line x1="780.7" y1="540.9" x2="789.7" y2="544.5" stroke="#000" stroke-width="1.1"/>
<line x1="783.0" y1="533.9" x2="792.0" y2="537.5" stroke="#000" stroke-width="1.1"/>
<line x1="785.8" y1="527.1" x2="794.8" y2="530.7" stroke="#000" stroke-width="1.1"/>
<line x1="789.1" y1="520.5" x2="798.1" y2="524.1" stroke="#000" stroke-width="1.1"/>
<ellipse cx="841.1" cy="507.9" rx="5.0" ry="7.4" transform="rotate(19 841.1 507.9)" fill="none" stroke="#000" stroke-width="1.65" />
<ellipse cx="880.8" cy="511.3" rx="5.8" ry="7.4" transform="rotate(19 880.8 511.3)" fill="none" stroke="#000" stroke-width="1.65" />
<ellipse cx="801.4" cy="568.4" rx="5.3" ry="7.9" transform="rotate(19 801.4 568.4)" fill="none" stroke="#000" stroke-width="1.65" />
<ellipse cx="822.0" cy="614.7" rx="5.3" ry="7.9" transform="rotate(19 822.0 614.7)" fill="none" stroke="#000" stroke-width="1.65" />
<path d="M869.3,583.5 L866.4,587.6 L863.2,591.3 L859.8,594.6 L856.2,597.5 L852.4,599.8 L848.6,601.6 L844.7,602.9 L840.8,603.6 L837.0,603.7 L833.3,603.3 L829.8,602.3 L826.4,600.7 L823.3,598.6 L820.5,596.0 L818.0,592.9 L815.9,589.4 L814.1,585.5 L812.7,581.2 L811.7,576.7 L811.2,571.9 L811.1,567.0 L811.4,561.9 L812.2,556.8 L813.4,551.7 L815.0,546.7 L817.0,541.9 L819.3,537.3 L822.0,532.9 L825.0,528.9 L828.2,525.2 L831.7,522.0 L835.3,519.2 L839.1,516.9 L842.9,515.2 L846.8,514.0 L850.7,513.3 L854.5,513.3 L858.1,513.8 L861.7,514.9 L865.0,516.5 L868.0,518.7 L870.8,521.4 L873.3,524.5 L875.4,528.1 L877.1,532.0 L878.4,536.3 L879.3,540.9 L879.8,545.7" fill="none" stroke="#000" stroke-width="1.53" />
<path d="M848.6,598.0 L845.5,598.9 L842.4,599.5 L839.3,599.6 L836.3,599.4 L833.3,598.7 L830.6,597.6 L828.0,596.1 L825.5,594.3 L823.3,592.1 L821.3,589.5 L819.6,586.6 L818.1,583.5 L816.9,580.1 L816.1,576.5 L815.5,572.7 L815.2,568.7 L815.3,564.7 L815.7,560.6 L816.3,556.5 L817.3,552.4 L818.6,548.3 L820.2,544.4 L822.0,540.6 L824.0,536.9 L826.3,533.5 L828.8,530.4 L831.5,527.5 L834.3,525.0 L837.3,522.7 L840.3,520.9 L843.4,519.4 L846.6,518.3 L849.7,517.6 L852.8,517.4 L855.8,517.5 L858.8,518.1 L861.6,519.0 L864.3,520.4 L866.8,522.1 L869.0,524.2" fill="none" stroke="#000" stroke-width="1.53" />
<ellipse cx="844.5" cy="564.5" rx="12.0" ry="17.0" transform="rotate(19 844.5 564.5)" fill="none" stroke="#000" stroke-width="1.42" stroke-dasharray="7 3"/>
<path d="M850.2,507.9 L859.3,503.8 L870.9,509.6 L874.2,521.2 L865.9,529.5 L854.3,524.5 L848.5,516.2 Z" fill="#fff" stroke="#000" stroke-width="3.07" />
<path d="M863.4,512.1 L870.9,509.6 L874.2,521.2 L865.9,529.5 L859.3,521.2 Z" fill="#000" stroke="#000" stroke-width="1.18" />
<ellipse cx="856.8" cy="515.9" rx="5.3" ry="7.9" transform="rotate(18 856.8 515.9)" fill="#fff" stroke="#000" stroke-width="1.89" />
<ellipse cx="866.7" cy="519.2" rx="2.6" ry="4.3" transform="rotate(18 866.7 519.2)" fill="#fff" stroke="#000" stroke-width="1.42" />
<ellipse cx="867.2" cy="519.5" rx="1.2" ry="2.2" transform="rotate(18 867.2 519.5)" fill="#000" stroke="#000" stroke-width="1.18" />
<path d="M859.3,503.8 L863.4,512.1" fill="none" stroke="#000" stroke-width="1.65" />
<path d="M854.3,524.5 L859.3,521.2" fill="none" stroke="#000" stroke-width="1.65" />
<path d="M841.9,553.2 L859.3,560.6 L857.6,573.0 L841.1,563.9 Z" fill="#fff" stroke="#000" stroke-width="1.53" />
<path d="M843.6,554.5 L842.2,563.9" fill="none" stroke="#000" stroke-width="2.36" />
<path d="M846.0,555.6 L844.7,565.2" fill="none" stroke="#000" stroke-width="2.36" />
<path d="M848.5,556.8 L847.2,566.6" fill="none" stroke="#000" stroke-width="2.36" />
<path d="M851.0,558.0 L849.7,567.9" fill="none" stroke="#000" stroke-width="2.36" />
<path d="M853.5,559.1 L852.2,569.2" fill="none" stroke="#000" stroke-width="2.36" />
<path d="M856.0,560.3 L854.6,570.5" fill="none" stroke="#000" stroke-width="2.36" />
<ellipse cx="841.9" cy="559.0" rx="2.3" ry="5.3" transform="rotate(18 841.9 559.0)" fill="none" stroke="#000" stroke-width="2.83" />
<ellipse cx="859.3" cy="568.4" rx="5.6" ry="8.6" transform="rotate(18 859.3 568.4)" fill="#fff" stroke="#000" stroke-width="1.89" />
<ellipse cx="861.3" cy="569.4" rx="4.3" ry="6.9" transform="rotate(18 861.3 569.4)" fill="#fff" stroke="#000" stroke-width="1.53" />
<path d="M860.9,578.0 C861.3,579.1 862.0,583.1 863.4,584.6 C864.8,586.1 867.1,586.9 869.2,587.1 C871.3,587.2 874.7,585.7 875.8,585.4" fill="none" stroke="#000" stroke-width="2.6" />
<ellipse cx="874.2" cy="573.4" rx="8.3" ry="11.6" transform="rotate(18 874.2 573.4)" fill="#fff" stroke="#000" stroke-width="2.12" />
<path d="M868.4,565.6 C869.3,564.9 872.1,561.9 874.2,561.4 C876.2,561.0 879.7,562.8 880.8,563.1" fill="none" stroke="#000" stroke-width="1.53" />
<ellipse cx="751.3" cy="395.6" rx="3.3" ry="4.6" transform="rotate(18 751.3 395.6)" fill="#fff" stroke="#000" stroke-width="3.07" />
<path d="M754.2,395.6 L782.4,408.8 L780.7,417.9 L752.6,403.8 Z" fill="#fff" stroke="#000" stroke-width="1.53" />
<path d="M757.5,397.7 L756.2,404.7" fill="none" stroke="#000" stroke-width="2.12" />
<path d="M759.9,398.8 L758.5,405.7" fill="none" stroke="#000" stroke-width="2.12" />
<path d="M762.2,399.9 L760.9,406.8" fill="none" stroke="#000" stroke-width="2.12" />
<path d="M764.5,401.0 L763.2,407.9" fill="none" stroke="#000" stroke-width="2.12" />
<path d="M766.8,402.0 L765.5,409.0" fill="none" stroke="#000" stroke-width="2.12" />
<path d="M777.4,409.6 C778.1,408.0 780.9,408.4 782.4,408.8 C783.9,409.2 785.9,410.6 786.5,412.1 C787.1,413.6 786.7,416.4 786.0,417.9 C785.3,419.4 783.7,420.8 782.4,420.9 C781.1,421.0 779.1,420.6 778.2,418.7 C777.4,416.9 776.7,411.3 777.4,409.6 Z" fill="#fff" stroke="#000" stroke-width="1.65" />
<ellipse cx="712.2" cy="581.7" rx="4.0" ry="5.0" transform="rotate(18 712.2 581.7)" fill="#fff" stroke="#000" stroke-width="2.83" />
<ellipse cx="712.2" cy="581.7" rx="1.7" ry="2.3" transform="rotate(18 712.2 581.7)" fill="none" stroke="#000" stroke-width="1.65" />
<path d="M716.0,580.0 L737.5,588.3 L735.9,594.9 L715.2,586.6 Z" fill="#fff" stroke="#000" stroke-width="1.53" />
<path d="M718.5,581.4 L717.5,587.1" fill="none" stroke="#000" stroke-width="2.12" />
<path d="M721.0,582.3 L720.0,588.1" fill="none" stroke="#000" stroke-width="2.12" />
<path d="M723.5,583.3 L722.5,589.1" fill="none" stroke="#000" stroke-width="2.12" />
<path d="M726.0,584.3 L725.0,590.1" fill="none" stroke="#000" stroke-width="2.12" />
<path d="M728.4,585.3 L727.5,591.1" fill="none" stroke="#000" stroke-width="2.12" />
<path d="M730.9,586.3 L729.9,592.1" fill="none" stroke="#000" stroke-width="2.12" />
<path d="M734.2,588.3 C735.1,586.5 738.4,586.4 740.0,586.6 C741.7,586.9 743.5,588.3 744.2,590.0 C744.9,591.6 745.0,594.9 744.2,596.6 C743.3,598.2 740.7,599.7 739.2,599.9 C737.7,600.0 735.9,599.3 735.1,597.4 C734.2,595.5 733.4,590.1 734.2,588.3 Z" fill="#fff" stroke="#000" stroke-width="1.65" />
</g>
<g stroke="#000" stroke-width="1.25">
<line x1="67.2" y1="233.5" x2="132" y2="185"/>
<line x1="97" y1="251" x2="170" y2="190"/>
<line x1="129" y1="267" x2="176" y2="218"/>
<line x1="162" y1="284" x2="207" y2="235"/>
<line x1="191" y1="300.5" x2="221" y2="242"/>
<line x1="216.6" y1="314.6" x2="259.5" y2="253"/>
<line x1="334.2" y1="481" x2="402" y2="402"/>
<line x1="362" y1="495.8" x2="399" y2="445"/>
<line x1="393" y1="512" x2="455.5" y2="354"/>
<line x1="419" y1="524.4" x2="476.4" y2="365"/>
<line x1="445.1" y1="539.3" x2="494" y2="395"/>
<line x1="472.4" y1="556.2" x2="518.5" y2="404"/>
<line x1="512.9" y1="577.3" x2="542" y2="475"/>
<line x1="549.6" y1="596.3" x2="587" y2="480.5"/>
<line x1="584" y1="613" x2="625.5" y2="485.5"/>
<line x1="619" y1="633" x2="646.5" y2="545.5"/>
<line x1="656.5" y1="653" x2="676.5" y2="563"/>
<line x1="691.5" y1="670.5" x2="711.5" y2="583"/>
<line x1="721.5" y1="688" x2="739" y2="598"/>
<line x1="749" y1="703" x2="754" y2="545.5"/>
<line x1="799" y1="730.5" x2="802.5" y2="605.5"/>
<line x1="436.5" y1="128.5" x2="407.5" y2="162.5"/>
<line x1="472.5" y1="146" x2="440" y2="180"/>
<line x1="562.5" y1="196" x2="494" y2="274"/>
<line x1="649" y1="235" x2="564" y2="335"/>
<line x1="722.5" y1="282.5" x2="659" y2="362.5"/>
<line x1="801.5" y1="325" x2="757" y2="395"/>
<line x1="836.5" y1="342.5" x2="785" y2="408"/>
<line x1="856.5" y1="435.5" x2="824" y2="488"/>
<line x1="896.5" y1="454.5" x2="864" y2="510.5"/>
<line x1="926.5" y1="470.5" x2="874.5" y2="551"/>
</g>
<text x="314" y="525" transform="rotate(-30 314 525)" font-family="'Liberation Sans',sans-serif" font-weight="bold" font-size="136" letter-spacing="3.5" fill="none" stroke="#8c8c8c" stroke-width="0.8">nkz.by</text>
<g font-family="'Liberation Sans',sans-serif" font-size="18" fill="#000" stroke="#000" stroke-width="0.25">
<text transform="translate(44.6,234.2) scale(1.1,1)">20</text>
<text transform="translate(75.8,251.4) scale(1.1,1)">16</text>
<text transform="translate(108.10000000000001,267.5) scale(1.1,1)">19</text>
<text transform="translate(141.39999999999998,285.1) scale(1.1,1)">18</text>
<text transform="translate(170.2,301.2) scale(1.1,1)">17</text>
<text transform="translate(195.0,314.9) scale(1.1,1)">16</text>
<text transform="translate(312.8,481) scale(1.1,1)">15</text>
<text transform="translate(341.2,495) scale(1.1,1)">14</text>
<text transform="translate(372.2,512) scale(1.1,1)">13</text>
<text transform="translate(397.2,525) scale(1.1,1)">12</text>
<text transform="translate(424.2,540) scale(1.1,1)">11</text>
<text transform="translate(450.2,556) scale(1.1,1)">10</text>
<text transform="translate(500.8,577.4) scale(1.1,1)">9</text>
<text transform="translate(538.2,596.3) scale(1.1,1)">8</text>
<text transform="translate(571.9000000000001,615) scale(1.1,1)">7</text>
<text transform="translate(606.7,633.6) scale(1.1,1)">6</text>
<text transform="translate(643.1,653.2) scale(1.1,1)">5</text>
<text transform="translate(677.2,671.4) scale(1.1,1)">4</text>
<text transform="translate(708.2,688) scale(1.1,1)">3</text>
<text transform="translate(737.2,702.8) scale(1.1,1)">2</text>
<text transform="translate(787.0,730.3) scale(1.1,1)">1</text>
<text transform="translate(436.7,127.5) scale(1.1,1)">18</text>
<text transform="translate(469.2,146) scale(1.1,1)">21</text>
<text transform="translate(563.2,196) scale(1.1,1)">11</text>
<text transform="translate(639.7,236) scale(1.1,1)">22</text>
<text transform="translate(723.2,282.5) scale(1.1,1)">11</text>
<text transform="translate(798.2,324) scale(1.1,1)">4</text>
<text transform="translate(833.2,342.5) scale(1.1,1)">23</text>
<text transform="translate(854.2,434) scale(1.1,1)">24</text>
<text transform="translate(893.2,454) scale(1.1,1)">25</text>
<text transform="translate(923.2,470.5) scale(1.1,1)">26</text>
</g>
<path d="M950,9.5 L952.5,9.5 L952.5,7.5 L956,6 M959.5,8.5 L966.5,8.5" stroke="#9a9a9a" stroke-width="2" fill="none"/>
<circle cx="908" cy="695.8" r="39.3" fill="#80cda0"/>
<circle cx="908" cy="695.8" r="33.8" fill="none" stroke="#e9f7ef" stroke-width="1.1"/>
<g transform="translate(802.5,708.6) scale(0.875,1)" font-family="'Liberation Sans',sans-serif" font-weight="bold" font-size="33"><text fill="#fff" stroke="#fff" stroke-width="4">АГРО</text><text fill="#80cda0" stroke="#80cda0" stroke-width="1.3">АГРО</text></g>
<text transform="translate(886.5,707.7) scale(0.765,1)" font-family="'Liberation Sans',sans-serif" font-weight="bold" font-size="31" fill="#fff" stroke="#fff" stroke-width="1.2">НКА</text>
</svg>
</body></html>
